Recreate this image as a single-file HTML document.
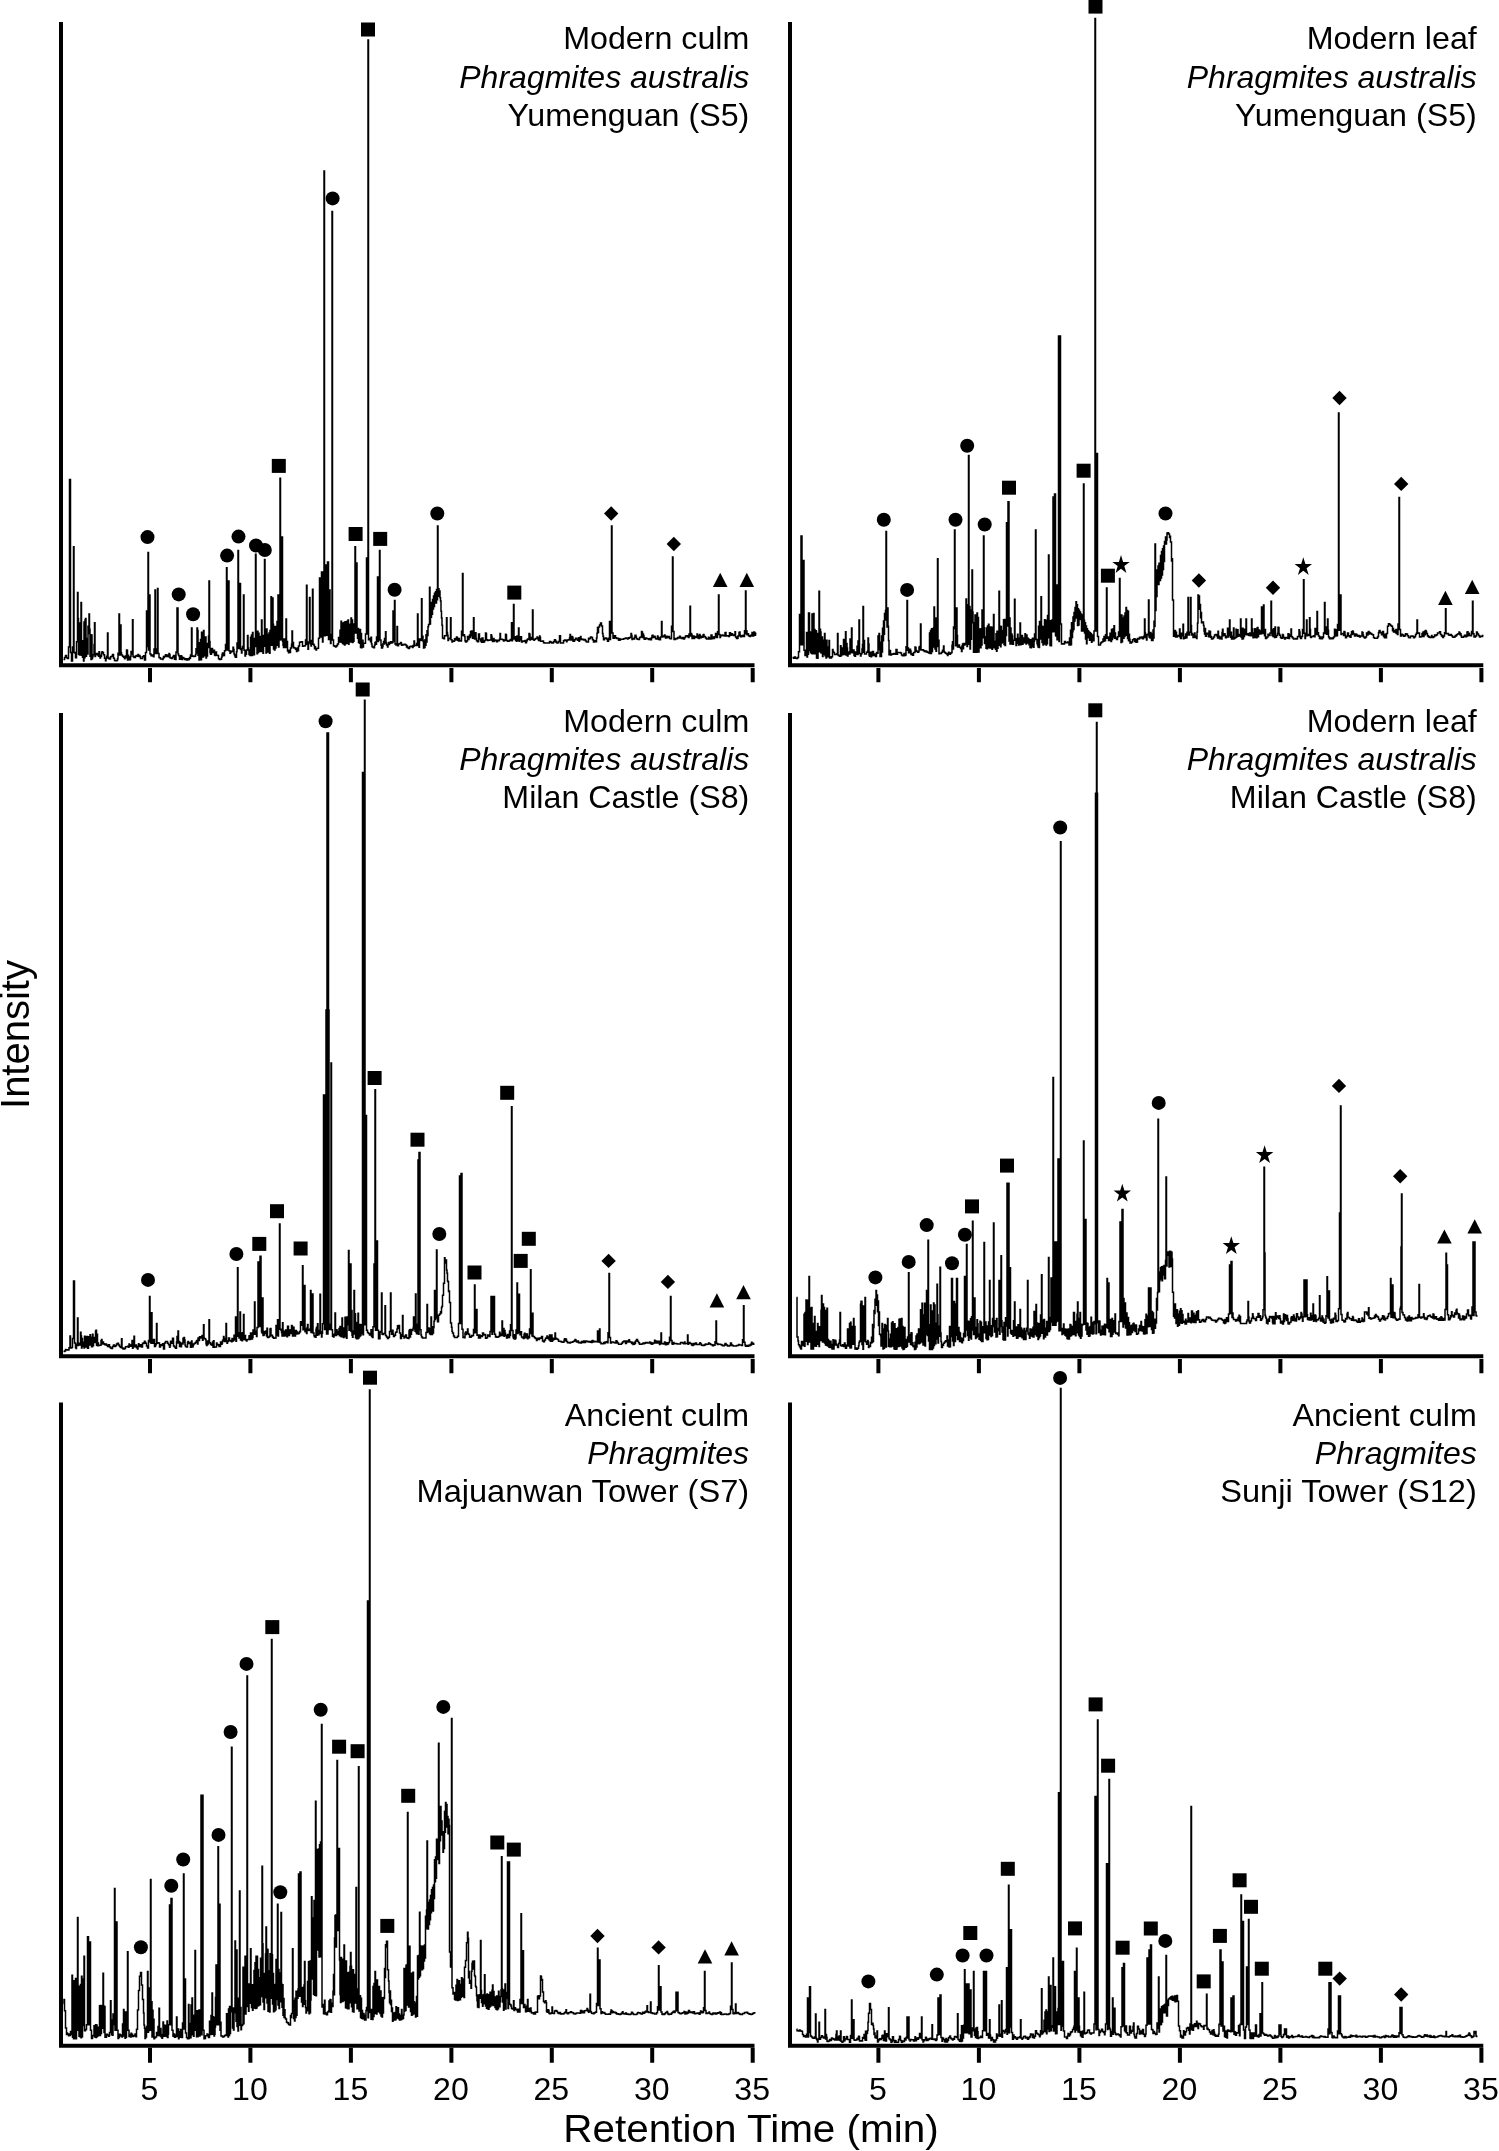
<!DOCTYPE html>
<html lang="en"><head><meta charset="utf-8"><title>Pyrolysis GC chromatograms of Phragmites</title>
<style>html,body{margin:0;padding:0;background:#fff}svg{display:block;will-change:transform}text{font-family:"Liberation Sans", Arial, Helvetica, sans-serif;fill:#000}.l{font-size:30.5px;text-anchor:end}.i{font-style:italic}.k{font-size:30.5px;text-anchor:middle}.a{font-size:38px;text-anchor:middle}.ax{stroke:#000;stroke-width:4;fill:none;stroke-linecap:butt}.tr{stroke:#000;stroke-width:1.5;fill:none;stroke-linejoin:miter}</style></head><body>
<svg width="1499" height="2151" viewBox="0 0 1499 2151">
<rect width="1499" height="2151" fill="#fff"/>
<path class="ax" d="M61 22V665.3H754.5"/>
<path class="ax" d="M150 667.9v14.4M250.4 667.9v14.4M350.9 667.9v14.4M451.4 667.9v14.4M551.8 667.9v14.4M652.2 667.9v14.4M752.7 667.9v14.4"/>
<path class="ax" d="M61 713V1356.3H754.5"/>
<path class="ax" d="M150 1358.9v14.4M250.4 1358.9v14.4M350.9 1358.9v14.4M451.4 1358.9v14.4M551.8 1358.9v14.4M652.2 1358.9v14.4M752.7 1358.9v14.4"/>
<path class="ax" d="M61 1402.4V2045.8H754.5"/>
<path class="ax" d="M150 2047.8v15M250.4 2047.8v15M350.9 2047.8v15M451.4 2047.8v15M551.8 2047.8v15M652.2 2047.8v15M752.7 2047.8v15"/>
<path class="ax" d="M790 22V665.3H1483.3"/>
<path class="ax" d="M878.4 667.9v14.4M978.9 667.9v14.4M1079.4 667.9v14.4M1179.9 667.9v14.4M1280.4 667.9v14.4M1380.9 667.9v14.4M1481.4 667.9v14.4"/>
<path class="ax" d="M790 713V1356.3H1483.3"/>
<path class="ax" d="M878.4 1358.9v14.4M978.9 1358.9v14.4M1079.4 1358.9v14.4M1179.9 1358.9v14.4M1280.4 1358.9v14.4M1380.9 1358.9v14.4M1481.4 1358.9v14.4"/>
<path class="ax" d="M790 1402.4V2045.8H1483.3"/>
<path class="ax" d="M878.4 2047.8v15M978.9 2047.8v15M1079.4 2047.8v15M1179.9 2047.8v15M1280.4 2047.8v15M1380.9 2047.8v15M1481.4 2047.8v15"/>
<path class="tr" d="M63.5 659.4H64.5V657.6H65.5V655.5H66.5V657.8H67.5V658.4H68.5V647H69.5V479.6H70.5V652.6H71.5V660.9H72.5V646.9H73.5V546.7H74V652.5H75V653.1H75.5V657.8H76.5V641.8H77.5V592.4H78V618.5H78.5V654.3H79V623.1H79.5V654.9H80V634.2H80.5V651.5H81V602.5H81.5V655.3H82V642.5H82.5V657.3H83V640.8H83.5V660.9H84V622.1H84.5V657.8H85V619.9H85.5V618.4H86V656.3H86.5V638.5H87V640.8H87.5V653.9H88V626.2H88.5V633.5H89V614H89.5V629.2H90V656.3H90.5V634.7H91V659.4H91.5V635.1H92V658.8H92.5V656.7H93V654.8H93.5V654.7H94V644.5H94.5V622.8H95V656.5H95.5V654.6H96.5V653.5H97.5V654.9H98.5V656.2H99V651.8H99.5V655.3H100V658H100.5V656.5H101.5V653.1H102V651.7H102.5V652.6H103.5V654.7H104.5V658.3H105.5V660.7H106V658.4H106.5V656.3H107.5V633H108V658H109V658.8H109.5V659.1H110.5V656.8H111.5V656.3H112.5V654.5H113V654.6H113.5V658.3H114.5V660.5H115.5V660.7H116.5V660.6H117V660.5H117.5V658.8H118V653.2H119V614H119.5V654.9H120.5V625H121V652.7H121.5V655.1H122.5V656.3H123.5V657.2H124.5V658.8H125V656.4H125.5V656.1H126V657.8H126.5V650.1H127V650.3H127.5V659.9H128V655.2H128.5V657.1H129.5V659.8H130.5V656.6H131V651.4H131.5V653H132V654H132.5V619.7H133V656.6H134V657.5H135.5V656H136.5V655.6H137.5V656.2H138V654.4H138.5V655.5H139V656.5H139.5V655.5H140V656.8H140.5V658.4H141.5V658.6H142.5V656.8H143.5V655.8H144V656.1H144.5V660.1H145.5V652.5H146.5V611H147V646.4H148V552.6H148.5V650H149.5V595H150V654.1H151V655.7H151.5V655H152.5V656H153.5V656.8H154V649.1H155V590H155.5V653.6H156.5V648.9H157.5V588.6H158V653.5H159V657.5H159.5V657.8H160.5V658.9H161.5V659.1H162.5V659.4H163V658.2H163.5V656.6H164V657.5H164.5V656.3H165.5V654.8H166V656.3H166.5V656.4H167.5V654.9H168.5V656.7H169V653.6H169.5V654.7H170V657.7H170.5V657.9H171.5V658.5H172.5V656.9H173.5V655.5H174.5V659.3H175.5V659.5H176V651.9H177V608H178V653.7H178.5V655.2H179V655.9H179.5V659.3H180.5V659.1H181V655.8H181.5V656.6H182V659.4H182.5V657.6H183.5V658.3H184.5V659.5H185.5V658.8H186.5V660H187.5V658.8H188.5V659.8H189V659H189.5V657.4H190V658.2H190.5V655H191.5V627.9H192V656.3H192.5V655.9H193.5V656.5H194.5V656.3H195.5V654.4H196V648.8H196.5V652.9H197V627.9H197.5V630.5H198V655.2H198.5V642.7H199V660.1H199.5V649.2H200V658.8H200.5V639.4H201V659.8H201.5V632.3H202V655.4H202.5V632.4H203V656.9H203.5V630.4H204V655.1H204.5V641.8H205V655.8H205.5V637H206V657.9H206.5V645.4H207V655.9H207.5V643.5H208V647.4H208.5V636.1H209V581H209.5V641.5H210V652.5H210.5V654.3H211.5V648.4H212.5V652.5H213.5V651.1H214V650.3H214.5V655H215V655.5H215.5V651.9H216.5V655.3H217.5V655.6H218.5V658.7H219.5V659.4H220.5V659.3H221.5V657.2H222V654.5H222.5V653H223V655.8H223.5V655.4H224.5V650.7H225.5V644.5H226.5V567.8H227V650.1H227.5V645.8H228.5V581H229V650.7H229.5V650.8H230V653.2H230.5V651.9H231.5V651.2H232.5V651.5H233V647.2H233.5V649.4H234V653.7H234.5V654.9H235V656.5H235.5V657.3H236.5V651.8H237V642.9H238V550.5H238.5V648.5H239V645H240V583.5H240.5V649.6H241.5V653H242V648.6H242.5V646.4H243.5V595H244V650.3H245V656.1H245.5V654.2H246.5V650H247.5V635.5H248V648.1H248.5V650.3H249V654.6H249.5V650H250V655.6H250.5V637.2H251V655.4H251.5V635H252V655.4H252.5V632.6H253V654.6H253.5V644.9H254V654.7H254.5V638.6H255V641H255.5V554.3H256V646.6H256.5V632.9H257V653.8H257.5V631.2H258V652.4H258.5V633.3H259V651.4H259.5V636.4H260V651.6H260.5V638H261V649.2H261.5V620H262V651.4H262.5V639.7H263V653.3H263.5V635.4H264V640.6H264.5V559.4H265V646.2H265.5V636.6H266V653.1H266.5V629H267V634.5H267.5V652.1H268V639.4H268.5V652H269V633.1H269.5V653.3H270V630.4H270.5V645.1H271V596.7H271.5V645.3H272V630.3H272.5V598H273V624.2H273.5V648.9H274V633.6H274.5V650.1H275V626.4H275.5V647.9H276V626.5H276.5V645.2H277V621.4H277.5V644.6H278V595H278.5V646.9H279V626.7H279.5V640H280V478.3H280.5V639.7H281.5V537H282.5V641.2H283V645.3H283.5V647.4H284V638.9H284.5V647.6H285V647.3H285.5V645.5H286V619H286.5V647.5H287V641.6H287.5V651.1H288.5V652.7H289V650.3H289.5V650.8H290V652.6H290.5V648.1H291.5V644.3H292V631H292.5V646.5H293V642.6H293.5V647.7H294V647.5H294.5V648.1H295.5V649.3H296.5V651.5H297V648.6H297.5V648.1H298V650.8H298.5V646.1H299.5V642.3H300.5V641.9H301.5V641.7H302.5V646.3H303.5V646.1H304.5V645.7H305.5V640.1H306.5V585.3H307V644.3H308V649.2H308.5V641.9H309.5V597.4H310V642.9H310.5V644.1H311V646H311.5V640.4H312.5V589.3H313V644.3H314V645.4H314.5V648.7H315V646.7H315.5V648.8H316V650H316.5V648.6H317.5V648.3H318.5V638.2H319.5V578H320.5V637.1H321.5V572H322.5V642.1H323V635.4H324V171H324.5V635.8H325.5V565H326.5V635.2H327.5V562H328.5V639.6H329.5V590H330V639.2H330.5V643.4H331V634.4H332V211.5H332.5V640H333.5V645.7H334.5V646.3H335.5V646.9H336V646.6H336.5V645.4H337V645.7H337.5V643.9H338.5V637.5H339V639.7H339.5V642.1H340V630.3H340.5V642.1H341V621.2H341.5V642.2H342V631.9H342.5V643.4H343V622.9H343.5V644.1H344V622.6H344.5V645.1H345V621.8H345.5V643.8H346V623.6H346.5V643.2H347V621.3H347.5V640.4H348V620.1H348.5V644.2H349V624.3H349.5V641.9H350V626.1H350.5V642H351V618H351.5V640.4H352V619.9H352.5V642.4H353V624.1H353.5V641.2H354V626.2H354.5V631.9H355V546.7H355.5V633H356V632.8H356.5V563H357V631.7H357.5V638.3H358V628.4H358.5V642.4H359V633.6H359.5V643.2H360V629.5H360.5V647.4H361V633.5H361.5V647.8H362V641.3H362.5V640.3H363V646.9H363.5V643.3H364.5V643.2H365.5V634.1H366.5V558H367.5V634.1H368V40H368.5V639.7H369.5V638.6H370V639.8H370.5V641.7H371V637.3H371.5V643.9H372V646.5H372.5V647H373.5V647.7H374.5V645.2H375V642.7H375.5V641.9H376V644.3H376.5V636.9H377.5V577H378V641.4H378.5V634.3H379.5V550.5H380V639.9H381V645.1H381.5V647.9H382.5V646.4H383V643.7H383.5V641.4H384V644.1H384.5V638.6H385V641.7H385.5V631.7H386V643H386.5V644.9H387V645H387.5V646.9H388V644.4H388.5V642.6H389V644.5H389.5V643.2H390.5V641.8H391.5V643.1H392V642.5H393V611H393.5V640.9H394.5V600.5H395V643.9H396V645.1H397V626.6H397.5V645.8H398.5V644H399.5V643.8H400.5V642.4H401V642.9H401.5V645.3H402V644.6H402.5V644.9H403.5V644.4H404.5V644.3H405.5V644.9H406.5V647H407V646H407.5V647.8H408.5V648.6H409.5V646.8H410.5V646.3H411.5V646.5H412.5V647.5H413V645.5H413.5V646.2H414V641H414.5V645.5H415.5V645.6H416.5V643.4H417.5V614H418V645.6H419V647.2H419.5V638.9H420.5V640.6H421.5V598.7H422V636.3H422.5V636.2H423V640.9H423.5V647.9H424V643.9H424.5V647.6H425V639.7H425.5V645.2H426V634.7H426.5V641.9H427V630.8H427.5V635.4H428V626.7H428.5V624.4H429.5V587.3H430V623.9H430.5V607.1H431V617.2H431.5V602.5H432V614.2H432.5V599.4H433V609.1H433.5V595.9H434V606.6H434.5V593.2H435V603H435.5V591.8H436V603H436.5V589.6H437V599.7H437.5V526H438V593.8H438.5V588.8H439V596.2H439.5V591.1H440V597.8H440.5V601H441V611.2H441.5V617.9H442V625.2H442.5V638H443V637.9H443.5V638.6H444V638.7H444.5V635.8H445.5V635.7H446.5V617.7H447V632.5H447.5V635.2H448V640.4H448.5V638.7H449.5V638.2H450.5V617.7H451V639.7H452V642.1H452.5V641.1H453.5V641.3H454.5V638.8H455V639.9H455.5V638.6H456V639.8H456.5V637H457V637.4H457.5V640.3H458.5V640.9H459V638.4H459.5V640.8H460.5V641.1H461.5V631.2H462.5V573.4H463V635.6H464V634.8H464.5V636.6H465V640.7H465.5V641.8H466V641.9H466.5V641.1H467.5V636.4H468V637.1H468.5V639.4H469V636.9H469.5V635.1H470V637.6H470.5V631.4H471V635.8H471.5V630.9H472V631.1H472.5V638.3H473.5V617.7H474V636.8H474.5V638.9H475V633.1H475.5V632.8H476V638.6H476.5V640.8H477.5V641.7H478.5V634H479.5V639.1H480.5V640.9H481.5V642.3H482V637.9H483V642.3H483.5V641.2H484V642H484.5V640.4H485V640.6H485.5V633.1H486V633.6H486.5V639.7H487.5V640.4H488.5V640.2H489.5V640H490.5V640.1H491V634.7H491.5V636.3H492V640.3H492.5V641.4H493.5V638.6H494V641.2H494.5V640H495.5V640.3H496.5V641.7H497.5V640.2H498V640.3H498.5V640.8H499.5V639.3H500V633.4H500.5V639.2H502.5V639.8H503.5V640.9H504V640.4H504.5V640.1H505V640.6H505.5V634.3H506V635.1H506.5V640.6H507.5V641.2H508.5V641.3H509V641H509.5V640.3H510V640.6H510.5V639.4H511.5V622.8H512V640.7H512.5V636.5H513.5V604.5H514V638.9H515V636.7H515.5V640.4H516V640.1H516.5V641.3H517V636.1H517.5V636.2H518V640.3H518.5V627.9H519V641.2H519.5V639.9H520.5V636.7H521.5V642H522.5V641H523.5V641.3H524.5V641.1H525V640.6H525.5V642.7H526.5V640.9H527V640H527.5V639.1H528.5V639.2H529V633.5H529.5V634.2H530V639.9H530.5V639.2H531.5V637.5H532.5V610H533V639.6H534V640.3H534.5V639.2H535.5V638.6H537V637.1H537.5V637.8H538V639.1H538.5V640.6H539.5V635.9H540V637.6H540.5V641.3H541.5V641.2H542.5V641H543.5V642.8H544.5V642.9H549.5V641.6H550.5V642.2H551V641.9H551.5V642.7H552V642.9H553.5V641.5H554.5V639.8H555.5V642.1H556V641.3H556.5V642.5H557V643H557.5V642.7H558.5V641.4H559.5V635.8H560.5V643H562.5V642.9H563.5V640.7H564.5V639.9H565.5V640.3H566.5V641.7H567V640.3H567.5V640H568.5V639.7H569.5V638.1H570V634.6H570.5V639.9H571.5V640.1H572V636.5H572.5V637.6H573V641.2H573.5V641.3H574.5V639.8H575.5V638.3H576.5V638.9H577.5V640.3H578.5V637.7H579V641.2H579.5V639.7H580.5V636.6H581V638.7H581.5V639.4H582.5V639.2H583.5V640.1H584.5V639.5H585.5V641.1H586.5V641.9H587.5V642.1H588.5V638.2H589V639.1H589.5V638.5H590.5V637.1H591.5V637.6H592.5V639.7H593.5V641.9H594.5V641.8H595V640.7H595.5V641.8H596.5V638.1H597V633.3H597.5V627.6H598V632.5H598.5V626.9H599.5V625.1H600.5V622.9H601.5V626.1H602.5V633.4H603V636.2H603.5V639.8H604.5V638.3H605.5V637.9H606.5V639H607.5V641.3H608.5V638.2H609.5V621.5H610V639.4H610.5V627.3H611.5V526H612V632.9H613V638H613.5V638.2H614.5V635.8H615.5V637.7H616.5V638.4H617.5V638.5H618V638.3H618.5V640H619V640.2H619.5V638.7H620V640.1H620.5V639.3H623.5V638.7H624.5V638.5H625.5V637.9H626.5V638.2H627.5V639H628V638.4H628.5V637.7H629V638.3H629.5V637.5H630.5V637.3H631V633.4H631.5V635.6H632V639.6H632.5V638.4H633.5V638.8H634V639H634.5V637.2H635V635.3H635.5V635.2H636V637.1H636.5V638.7H637.5V639.2H638.5V639.6H639.5V637.6H640.5V636.9H641.5V631.6H642V632.2H642.5V637.4H643V634H643.5V635.7H644V638.7H644.5V639.2H645.5V638H646.5V638.4H647.5V638.8H648.5V639.5H649.5V638.8H650V638.5H650.5V639.7H651.5V637.8H652V635.6H652.5V635.2H653V637.4H653.5V636.7H654.5V636.3H655V637.3H655.5V638.7H656.5V639H657.5V635.9H658V637.4H658.5V639.5H659V638H659.5V638.3H660V639.8H660.5V636.9H661.5V621.5H662V636.9H662.5V636H663.5V636.7H664.5V635.1H665V636.2H665.5V638H666V636.5H666.5V636.3H667V637.7H667.5V637.2H668.5V636.6H669.5V638.4H670.5V638.7H671.5V626.3H672.5V556.9H673V631.6H674V639.4H675.5V638.5H676.5V638.7H677.5V637.6H678.5V638.1H679V637.8H679.5V636.2H680V636.4H680.5V638.1H681.5V638.4H682.5V637.6H683V638.3H683.5V638.9H684.5V637.5H685.5V635.9H686.5V635.7H687.5V636.7H688.5V637.4H689V634H690V606.3H690.5V636.1H691V633.6H691.5V634.4H692V638.5H692.5V638.2H693.5V636H694V638.6H694.5V636.4H695V636.7H695.5V637.6H696.5V637.1H697V633.9H697.5V635.5H698V637.9H698.5V638.1H699V638.4H699.5V634.4H700V635.7H700.5V637.7H701.5V636.5H702.5V637.3H703V635.1H703.5V634.6H704V636.7H704.5V636.6H705.5V638H706.5V638.9H708.5V637.2H709V637.7H709.5V638.9H711V635.1H712V638.8H712.5V637.1H713V637.3H713.5V638.6H714.5V636.7H715.5V633.4H716V637.1H716.5V637.4H717.5V631.7H718.5V594.9H719V634.5H720V637.4H720.5V635.8H721.5V635.2H722.5V635.1H723V635.4H723.5V635.8H724.5V636H725V632.7H725.5V632.6H726V635.9H726.5V635.7H728.5V636.4H729.5V632.7H730.5V635.2H731.5V633.8H732.5V635H733.5V635.4H734.5V634.8H735V631.8H735.5V637H736.5V638.4H737.5V638.3H738V636H738.5V635.7H739V632.5H739.5V632H740V635.2H740.5V636.7H741.5V635.8H742.5V636.5H743V635.3H743.5V635.7H744V636.5H744.5V630.7H745.5V591.1H746V633.7H746.5V631H747V634.8H747.5V633.8H748.5V635.7H749.5V636.5H750.5V635.2H751.5V635.8H752V632.5H752.5V636H753.5V635.6H754V631.9H754.5V632.8H755V635.3H755.5V633.5H756.5"/>
<path class="tr" d="M792.5 657.6H793.5V658.3H794.5V656.9H795V657H795.5V658.3H796.5V658.5H797.5V657.4H798.5V651.7H799.5V614.5H800V644.7H801V535.9H802V644.7H803V560.5H804V650.3H805V655.6H805.5V653.3H806V655.1H806.5V632.4H807V656.9H807.5V647.9H808V654.3H808.5V613H809.5V650.6H810V632.1H810.5V652.4H811V635.3H811.5V653.5H812V614.1H812.5V653.7H813.5V613.6H814V651.4H814.5V629.6H815V653.8H815.5V630.8H816V631H816.5V658H817V635H817.5V658.3H818V633.4H818.5V647.5H819V591.2H819.5V651.8H820V629.2H820.5V632.1H821V653H821.5V637H822.5V656.5H823V640.2H823.5V641.2H824V654.2H824.5V633.5H825V655.7H826V658.1H826.5V640.3H827V647.1H827.5V656.7H828.5V656.2H829V640.6H829.5V658H830V657H830.5V657.1H831V657.9H831.5V656.7H832.5V649.6H833V651.4H833.5V652.4H834.5V654.5H835.5V654.6H836.5V653.9H837V653.7H837.5V633.5H838V655.1H838.5V655.4H839.5V656.2H840.5V645.8H841V655.8H841.5V648.1H842V654.8H842.5V653.2H843.5V639.5H844V654.5H844.5V640.1H845V653.4H845.5V631.7H846V655H846.5V643.6H847V648.1H847.5V656H848V654.1H848.5V652.1H849.5V654.1H850V639H850.5V652.6H851.5V627.9H852V652.8H852.5V650.3H853V652.8H853.5V650.1H854V655.5H854.5V653.4H855V656.2H855.5V651.9H856V654.1H856.5V654.3H857V646.2H857.5V654.4H858V640.9H858.5V646H859V620H859.5V653.6H860.5V656.1H861V654.1H861.5V653.4H862V648.9H862.5V644.6H863V606.4H863.5V652.2H864V640.5H864.5V654.1H866.5V652.3H867.5V651.3H868V638H868.5V644.1H869V655H869.5V656.2H870.5V652.3H871V656.8H871.5V655.7H872.5V651.6H873.5V655.6H874V654.1H874.5V654H875V655.1H875.5V656.4H876.5V652.6H877V652.8H877.5V653.2H878V636H878.5V649.5H879V633.6H879.5V648.6H880V656.6H880.5V642.3H881V656.5H881.5V636.1H882V651.9H882.5V628.2H883V640.7H883.5V620.9H884V634.2H884.5V613.6H885V620H885.5V610.4H886V531.6H886.5V608.8H887V627.1H887.5V607.9H888V626.2H888.5V640.6H889V654.7H889.5V650.6H890.5V655.1H891.5V653.9H892.5V654.3H893.5V653.6H894.5V654.1H895.5V654.3H896V649.4H896.5V649.6H897V654.3H897.5V652.4H900.5V653H901.5V655.1H902.5V655.8H904V653.5H904.5V655.4H905.5V655H906V646.7H907V600.5H907.5V650.3H908V648H908.5V652.7H909.5V652.6H910V649.3H910.5V651H911V654.4H911.5V653.8H912.5V655.2H913.5V652.6H915V647.1H915.5V647.4H916V650.6H916.5V651.2H917.5V652.2H918.5V651.7H919V647.3H919.5V646.4H920V649.7H920.5V624.1H921V650.1H921.5V649.9H922.5V649.7H923.5V650.7H924.5V651.6H925.5V651.8H926V651H926.5V651.6H927V652.1H927.5V652.3H928.5V653H929.5V633H930V653.4H930.5V630.5H931V653.6H931.5V628.7H932V651.4H932.5V643H933V646.9H933.5V627.7H934V606.9H934.5V627.3H935V648.9H935.5V618H936V651.2H936.5V627.5H937V641H937.5V558.7H938V646.6H938.5V640.3H939V653.8H939.5V653.3H940.5V653.4H941.5V652.2H942.5V650.3H943V651.1H943.5V646.1H944V651.5H944.5V652.5H945.5V653.2H946.5V653.9H947.5V655.5H948V653.7H948.5V652.2H949V654H949.5V653.9H950V654.2H950.5V653H951.5V652.5H952V645.3H952.5V641.8H953V648.9H953.5V626.9H954.5V530H955V628.4H955.5V645.7H956V631.4H956.5V608H957V635.4H957.5V646.9H958.5V645.5H959V644.9H959.5V647.2H960.5V648.5H961.5V651.6H962V645.9H962.5V644H963V648.8H963.5V643.5H964.5V645H965V644.1H965.5V643.9H966V599H966.5V621.5H967V646.5H967.5V604.8H968V638.6H968.5V455.5H969V644.2H969.5V606.5H970V649.1H970.5V622.4H971V639.2H971.5V609.9H972V570H972.5V612.1H973V622.7H973.5V652.3H974V631.4H974.5V652.3H975V615.1H975.5V652.2H976V616.3H976.5V652.2H977V613H977.5V651.7H978V617.4H978.5V652.1H979V634.5H979.5V647.7H980V628.9H980.5V647.8H981V628.7H981.5V645.1H982V610H982.5V637.8H983V627.3H983.5V535.9H984V627.7H984.5V643.4H985V636.8H985.5V640.7H986V648.2H986.5V628H987V648.8H987.5V626H988V647.7H988.5V624.3H989V646H989.5V631.7H990V648H990.5V626.9H991V647.5H991.5V630H992V649.3H992.5V627.2H993V645.4H993.5V614.5H994V647.8H994.5V641.2H995.5V649.3H996V633.8H996.5V651.2H997V631.2H997.5V648.3H998V632.8H998.5V641.5H999V591.2H999.5V645.3H1000V626.2H1000.5V646.7H1001V626.6H1001.5V642.9H1002V631.2H1002.5V630.7H1003V642.4H1003.5V619.8H1004V644.5H1004.5V619.6H1005V645.4H1005.5V619.9H1006V635.6H1006.5V522.7H1007.5V625.9H1008V501.7H1009V640.9H1009.5V617.9H1010V644H1010.5V627.9H1011V644.1H1011.5V634H1012V635.9H1012.5V644.3H1013.5V640.3H1014.5V599.3H1015V638.6H1015.5V638.8H1016V645.5H1016.5V643.3H1017.5V634.3H1018V638.3H1018.5V645H1019V642.3H1019.5V643.2H1020V623H1020.5V644.7H1021V635.4H1021.5V644.3H1022V635.5H1022.5V644.2H1023V637.9H1023.5V642.4H1024V638.1H1024.5V642.8H1025V633.7H1025.5V635.7H1026V643.9H1026.5V635H1027V642.5H1027.5V638.1H1028V643.1H1028.5V639H1029V644.8H1029.5V641.3H1030V647.6H1030.5V639.7H1031V647.7H1031.5V639.6H1032V646.5H1032.5V638.3H1033V639.4H1033.5V647.3H1034V641.2H1034.5V633.9H1035.5V530H1036V639.5H1037V643.5H1037.5V644.9H1038V647H1038.5V626.2H1039V647.5H1039.5V621.6H1040V639.1H1040.5V636.9H1041V596.7H1041.5V626.2H1042V642.4H1042.5V626.5H1043V644.9H1043.5V628.6H1044V643.2H1044.5V619.8H1045V644.1H1045.5V626.7H1046V645H1046.5V620.2H1047V643.7H1047.5V615.5H1048V632.2H1048.5V555H1049V637.8H1049.5V628.4H1050V645.6H1050.5V620.7H1051V645.8H1051.5V620.3H1052V631.8H1052.5V619.7H1053V497H1054V631.7H1054.5V494H1055.5V635.4H1056V635.9H1056.5V585H1057V639.8H1057.5V631.4H1058.5V336H1059V641.4H1059.5V336H1060.5V623.9H1061.5V644H1062.5V643.7H1063.5V644H1064.5V641.4H1065.5V642.8H1066.5V642.7H1067.5V641.9H1068.5V642.8H1069V645H1069.5V637.9H1070V645H1070.5V630.3H1071V644.8H1071.5V622.8H1072V637.4H1072.5V631.7H1073V617.1H1073.5V629.4H1074V612.4H1074.5V621.1H1075V607.5H1075.5V613.6H1076V601.7H1076.5V618.1H1077V604.7H1077.5V625.6H1078V608.7H1078.5V625H1079V610.3H1079.5V617.9H1080V612.1H1080.5V619.6H1081V614H1081.5V630.9H1082V615.1H1082.5V631H1083V617.9H1083.5V484H1084V620.3H1084.5V632.9H1085V622.7H1085.5V639.1H1086V626.1H1086.5V643.8H1087V628.8H1087.5V637.7H1088V630.8H1088.5V635.9H1089V631.9H1089.5V640.2H1090V632.7H1090.5V636.5H1091V633.7H1091.5V642.2H1092V634.9H1092.5V637.3H1093.5V640.8H1094V631H1095V18.6H1095.5V631H1096.5V453.5H1097.5V636.6H1098.5V645H1100.5V643.1H1101.5V642.1H1102.5V641.8H1103V638.9H1103.5V641.2H1104V636.5H1104.5V640.8H1105.5V634.8H1106.5V587.9H1107V638.3H1107.5V637.1H1108.5V640.4H1109.5V638.4H1110V633.3H1110.5V637.1H1111V641.5H1111.5V629.4H1112V639.5H1112.5V629.1H1113V633.2H1113.5V637.1H1114V625.8H1114.5V638.2H1115V633H1115.5V638H1116.5V639.4H1117.5V636.8H1118.5V632.1H1119.5V578.5H1120V636.2H1120.5V615.6H1121V642.4H1121.5V615H1122V641.7H1122.5V618H1123V626.4H1123.5V638.2H1124V616H1124.5V636.6H1125V612.9H1125.5V633.5H1126V607.5H1126.5V635.2H1127V610.4H1127.5V638.6H1128V611.3H1128.5V640.7H1129V634.2H1129.5V639.2H1130V643H1130.5V642.9H1131.5V642.1H1132.5V639.8H1133.5V639.5H1134V638.7H1134.5V641.4H1135V638.9H1135.5V639.8H1136V642.3H1136.5V642.1H1137.5V638.5H1138V638.8H1138.5V638.9H1139.5V637.2H1140.5V638.1H1141.5V636.9H1142.5V638.8H1143.5V637.5H1144V636.1H1144.5V619H1145V632.9H1145.5V637.5H1146.5V639.9H1147V634.8H1147.5V634.3H1148.5V600H1149V636.9H1150V638.1H1150.5V632.6H1151V637.4H1151.5V640.6H1152V634H1152.5V640.6H1153V630H1153.5V637.9H1154V621.3H1154.5V626.4H1155V544H1155.5V610.4H1156V586.6H1156.5V596.6H1157V570.1H1157.5V582.9H1158V566.1H1158.5V584.6H1159V563.2H1159.5V580.6H1160.5V555.4H1161V578H1161.5V551.6H1162V574.9H1162.5V548.8H1163V569.4H1163.5V546H1164V561.4H1164.5V541.6H1165.5V537H1166V544H1166.5V540.1H1167V533.1H1167.5V533.6H1168V532.8H1168.5V533.9H1169.5V537.4H1170V536.3H1170.5V542.1H1171.5V560.9H1172V558.8H1172.5V600.1H1173.5V636.2H1174.5V635.4H1175V630.6H1175.5V637H1176V632.3H1176.5V637H1177.5V636H1178V635.6H1178.5V635.9H1179V636.1H1179.5V629H1180V637.1H1180.5V638.5H1181.5V633.3H1182.5V635.7H1183V624.3H1183.5V638.8H1184V637.4H1184.5V636.9H1185V638.3H1185.5V633.9H1186.5V637.7H1187V632.3H1188V597.4H1188.5V635H1189.5V632.3H1190.5V597.4H1191V625.5H1191.5V635H1192V633.4H1192.5V634.4H1193V637.5H1194.5V632.9H1195V637.2H1195.5V636.2H1196V636.5H1196.5V638.5H1197V632H1197.5V622.9H1198V595H1198.5V605.7H1199V596.1H1199.5V609.3H1200V604.6H1200.5V617.8H1201V612.6H1201.5V622.8H1202.5V622.1H1203.5V625.4H1204V630.9H1204.5V634H1205V628.5H1205.5V636.2H1206.5V633.2H1207.5V634.1H1208.5V636.8H1209V631H1209.5V636H1210V631.4H1210.5V637.3H1211V636.5H1211.5V638.9H1212.5V638.5H1213.5V637H1214V636.9H1214.5V634.9H1215V635H1215.5V634.4H1216.5V635.7H1217.5V638H1218V631.3H1218.5V636.2H1219.5V638.8H1220V637.1H1220.5V638.2H1221.5V639H1222V632.5H1222.5V629.3H1223V635.8H1223.5V635.5H1224.5V633.8H1225V635.5H1225.5V637.7H1226.5V636.5H1227.5V628.3H1228V637H1228.5V635.3H1229.5V620H1230V635.4H1230.5V637.2H1231V632.3H1231.5V639H1232V636.2H1232.5V636.3H1233V639H1233.5V628.1H1234V638.7H1234.5V637.7H1235V637.9H1235.5V637.5H1236V629.2H1236.5V637H1237V630.5H1237.5V629.7H1238V636.3H1238.5V634.6H1239V636H1239.5V634.4H1240V635.8H1240.5V619H1241V637.1H1242V638.9H1242.5V628.3H1243V638.8H1243.5V636.4H1244.5V629.2H1245V630.8H1245.5V634.5H1246V619H1246.5V634.7H1247.5V634H1248V633.8H1248.5V635.3H1249V635.6H1249.5V633.1H1250V633.2H1250.5V635.8H1251.5V619H1252V629H1252.5V633.1H1253V637.8H1253.5V637.4H1254.5V628.7H1255V630.4H1255.5V637.4H1256V629.3H1256.5V637.8H1257V628.1H1257.5V627.6H1258V636.7H1258.5V630H1259.5V634.1H1260.5V633.9H1261V631H1261.5V607H1262V630H1262.5V633.6H1263.5V605H1264V632.7H1264.5V635.7H1265V629.6H1265.5V638.4H1266.5V637.8H1267V636.9H1268V634.3H1268.5V635.3H1269.5V635.6H1270V633H1271V601.2H1271.5V630.2H1272V635.4H1272.5V630.1H1273V636.6H1273.5V628.8H1274.5V637.4H1275V627H1275.5V637.2H1276.5V635.4H1277.5V633.6H1278V627.3H1278.5V627.4H1279V633.7H1279.5V635.3H1280.5V637.4H1281V637.8H1281.5V638.2H1282.5V634.4H1283V635.3H1283.5V637.6H1284.5V639H1285.5V637.4H1286.5V637.8H1287.5V638.2H1288V633.7H1288.5V633.9H1289V638.4H1289.5V635H1290V635.5H1290.5V636.2H1291V629.1H1291.5V636.8H1292.5V638H1293.5V639H1295.5V638.6H1296.5V638.9H1297V638.8H1297.5V636.4H1298.5V636.5H1299V629.8H1299.5V632H1300V637.1H1300.5V638.5H1301.5V636.5H1302.5V629.5H1303.5V579.7H1304V633.3H1305V638.6H1305.5V635H1306V635.6H1306.5V620H1307V635.7H1307.5V634.4H1308.5V635.5H1309.5V617.7H1310V629.6H1310.5V636.9H1311V637.4H1311.5V636.4H1312.5V636.6H1313.5V635.8H1314.5V636.7H1315V628.4H1315.5V629.9H1316V634.4H1317V611.4H1317.5V632.8H1318.5V635.9H1319.5V638.4H1320.5V638.8H1321V637.1H1322V638.8H1322.5V637.5H1323.5V632.9H1324.5V602.5H1325V633.5H1325.5V626.9H1326V627.6H1326.5V634.3H1327V633.9H1327.5V619H1328V630.3H1328.5V636.8H1329V637.6H1329.5V638.7H1331V637.9H1332V638.7H1332.5V638.4H1333.5V637H1334.5V629.2H1335V631.8H1335.5V636.1H1336V629.8H1336.5V635.8H1337.5V624.6H1338.5V412.9H1339V630.2H1340V595H1341V634.4H1341.5V633.6H1342V633.8H1342.5V633.4H1343.5V635.4H1344V631.4H1344.5V631.9H1345V635.5H1345.5V637.7H1346.5V636.3H1347.5V633H1348.5V635.8H1349.5V636.8H1350.5V637.3H1351V634.6H1351.5V631.7H1352V634.5H1352.5V630.9H1353V632H1353.5V634H1354.5V636H1355.5V635.6H1356V634H1356.5V635.1H1357.5V636.2H1358.5V635.5H1359.5V637.1H1360.5V636.1H1361.5V635.9H1362V632H1362.5V632.7H1363V635.2H1363.5V637H1364.5V638H1365.5V637H1366.5V632.9H1367V633.3H1367.5V634.9H1368V632.3H1368.5V631.4H1369V634H1369.5V632.4H1370V633H1370.5V633.4H1371.5V634.3H1372.5V634.7H1373.5V637.4H1374.5V638.2H1377.5V637H1378V636.5H1378.5V632.8H1379V630.9H1379.5V630.4H1380V632H1380.5V632.8H1381.5V634.8H1382.5V631.4H1383.5V636.4H1384.5V637.7H1385V634.3H1385.5V635.2H1386V637.7H1386.5V633.5H1387.5V626.3H1388.5V623.7H1389.5V624.6H1390.5V625.6H1391.5V626.2H1392.5V630.8H1393V628.6H1393.5V632.1H1394.5V630.4H1395.5V632.8H1396V629.5H1396.5V633.6H1397V630.4H1397.5V634.4H1398V623.9H1399V497.6H1399.5V629.5H1400.5V635.9H1401.5V634.2H1402.5V634.9H1403.5V636.2H1404.5V635.9H1405V635.4H1405.5V633.8H1406V634.2H1406.5V634.1H1407.5V635.8H1408.5V637.6H1409.5V637.8H1410.5V636.2H1411V636.3H1411.5V636.1H1412.5V636.3H1413.5V637.8H1414V637.7H1414.5V636.8H1415.5V634.4H1416.5V632.9H1417V620H1417.5V633.1H1418V633.3H1418.5V633H1419.5V637H1420.5V636.7H1421.5V636.6H1422V633.5H1422.5V635.3H1423V632H1423.5V636.5H1424V633H1424.5V631.2H1425V634.7H1425.5V630.6H1426V631.5H1426.5V633.6H1427.5V635.9H1428V635.8H1428.5V637H1429V636.8H1429.5V637.3H1430V637.6H1431.5V635.4H1432V637.6H1433.5V636.8H1434.5V635H1435V635.8H1435.5V635.6H1436.5V634.8H1437.5V632.9H1439.5V631.8H1440.5V634.6H1441.5V636.1H1442V635.6H1442.5V636.9H1443V637.4H1443.5V636H1444.5V632.8H1445.5V608.8H1446V633.5H1446.5V633.7H1447.5V633.6H1448.5V635H1449.5V635.2H1450.5V634.6H1451.5V635.7H1452.5V637.1H1453.5V637.3H1454.5V637.1H1455V636.1H1455.5V635.4H1456V636.1H1456.5V634.8H1457.5V634H1458.5V633.8H1459V631.9H1459.5V632.8H1460V634.7H1460.5V633.7H1461V635.8H1461.5V637.2H1463.5V636.5H1464.5V635.2H1465V635.3H1465.5V636.7H1466.5V636.2H1467V632.3H1467.5V631.8H1468V635.7H1468.5V633.3H1469V633.5H1469.5V635.5H1470.5V635.8H1471.5V631.4H1472.5V601.2H1473V633.7H1474V637.1H1475.5V635.9H1476.5V632H1477V632.6H1477.5V633.9H1478.5V635.6H1479.5V637H1480.5V636.3H1481.5V636.6H1482.5V635.4H1483.5"/>
<path class="tr" d="M63.5 1351.4H64.5V1350.9H65.5V1349.6H66V1349.7H66.5V1349.9H67.5V1350H68V1349.7H68.5V1350H69V1347.8H70V1336H70.5V1348H71.5V1347.4H72.5V1338.6H73.5V1281H74.5V1343H75.5V1347.6H76V1348.5H76.5V1344.2H77.5V1317.9H78V1345.6H78.5V1343.8H79V1343.2H79.5V1344.2H80V1344.9H80.5V1332.3H81V1336H81.5V1348H82V1338.5H82.5V1346.2H83V1342.3H83.5V1344.8H84V1347.9H84.5V1336.3H85V1343.7H85.5V1345.9H86V1347H86.5V1336.4H87.5V1348.2H88.5V1336.8H89.5V1345H90V1334.7H90.5V1344.9H91V1337.3H91.5V1346.7H92.5V1334.3H93V1345.7H93.5V1337.5H94.5V1342.6H95V1337.6H95.5V1331H96V1330.3H96.5V1345.2H97V1334.3H97.5V1345.7H98V1342.9H98.5V1345.6H99.5V1345.2H100.5V1345.3H101V1340.8H101.5V1339.4H102V1343.9H102.5V1341.9H103.5V1343.9H104V1343.8H104.5V1344.6H105V1344.7H105.5V1344.1H106.5V1345.3H107.5V1346.6H108.5V1344.8H109.5V1346.9H110.5V1348H111.5V1348.5H112.5V1346.6H113.5V1344.9H114.5V1346.4H115.5V1345.7H116.5V1343.9H117.5V1343.3H118.5V1345.1H119.5V1346.4H120.5V1347.4H121.5V1338.7H122V1348H123V1349H124.5V1348.3H125V1348.4H125.5V1346.7H127.5V1346.2H128.5V1347.3H129V1344H129.5V1345.1H130.5V1346.2H131.5V1344.7H132V1340.4H132.5V1348.2H133V1347H133.5V1345.8H134V1336.2H134.5V1346.8H135.5V1345.8H136V1345.1H136.5V1347.8H137.5V1349H138V1346.6H138.5V1343.8H139V1346.2H139.5V1346.4H140.5V1344.8H141.5V1347.1H142.5V1343.3H143.5V1343.6H144V1342.6H144.5V1341.2H145V1341.9H145.5V1343.3H146.5V1346.1H147.5V1348H148.5V1340.6H149.5V1296.4H150V1341.8H150.5V1342.3H151V1343.2H151.5V1312.8H152V1342.8H152.5V1343.3H153.5V1339.5H154.5V1346.4H155.5V1344.9H156V1343.7H156.5V1323.5H157V1343.3H157.5V1342.8H158.5V1342.9H159.5V1347.1H160.5V1344.8H161.5V1345.4H162.5V1343.7H163.5V1349H164.5V1343H165.5V1341.6H166V1341.7H167V1341.6H167.5V1343.2H168.5V1344.7H169.5V1347.3H170V1345.8H170.5V1341.3H171.5V1343.3H172.5V1338.3H173.5V1346H174.5V1347.1H175.5V1348.3H176.5V1342.1H177V1336.4H177.5V1342.9H178V1331H178.5V1341.6H179.5V1346.5H180V1342.6H180.5V1343.3H181V1346.7H181.5V1343.2H182.5V1344.1H183V1338.2H183.5V1342.4H184V1337.5H184.5V1340H185V1344.9H185.5V1346.4H186.5V1346.9H187.5V1342.4H188V1341.4H188.5V1342.4H189V1343.5H189.5V1342.9H190.5V1347.2H191V1342.3H191.5V1341.1H192V1344.5H192.5V1347H193V1345.4H193.5V1343.9H194.5V1343.2H195.5V1342.3H196.5V1340.4H197.5V1343.9H198V1338H198.5V1340.6H199.5V1336.7H201V1338H201.5V1336.8H202V1335.5H202.5V1340.2H203V1335.7H203.5V1324.8H204V1338H204.5V1338.7H205.5V1339.4H206V1343.8H206.5V1345.5H207V1341H207.5V1344.6H208V1343.3H208.5V1341.9H209V1319.7H209.5V1342.8H210.5V1344.4H211V1343.9H211.5V1344.8H212V1345.2H212.5V1341.9H213V1347.3H213.5V1340.7H214V1347.2H214.5V1347.1H215.5V1346.9H216.5V1343H217V1345H217.5V1344.4H218.5V1344.8H219V1346.5H219.5V1346.4H220.5V1342.1H221.5V1344.2H222V1343.1H222.5V1340.2H223V1341H223.5V1336.4H224V1338.6H224.5V1341.4H225.5V1338.9H226V1323.5H226.5V1341.1H227V1343.2H227.5V1341.5H228.5V1338H229.5V1340.4H230.5V1341H231.5V1341.7H232V1338.5H232.5V1341H233.5V1340.3H234V1335.2H234.5V1336.6H235V1339.6H235.5V1317H236V1341.3H236.5V1328.9H237V1331.4H237.5V1267.7H238V1336.2H239V1338H239.5V1332.8H240V1312H240.5V1340H241V1333.4H241.5V1333.1H242V1340.7H242.5V1332.7H243V1337.9H243.5V1314.6H244V1339.6H245V1335.6H245.5V1340H246.5V1341H247V1339.4H247.5V1339.6H249V1335.9H249.5V1335.7H250V1339.4H250.5V1333.1H251.5V1339.1H252.5V1337.3H253V1329.9H253.5V1334.3H254V1330.9H254.5V1302H255V1334.3H255.5V1331H256.5V1336.6H257V1327.5H258V1262H259V1326.4H260V1256.3H261V1325.8H261.5V1331.8H262V1332.9H262.5V1298H263V1335.6H263.5V1334.6H264V1335.1H264.5V1331.5H265.5V1333.2H266V1331H266.5V1335.9H267V1328.3H267.5V1337.5H268.5V1336.9H269.5V1336.2H270V1328.9H270.5V1328.5H271V1335.8H271.5V1335.2H272.5V1337.2H273V1337.1H273.5V1338.3H274.5V1337.9H275.5V1338H276V1325.4H276.5V1326.1H277V1334.9H277.5V1319.7H278V1336.1H278.5V1323.6H279.5V1223.9H280V1329.2H281V1330.3H281.5V1332.6H282V1336.1H282.5V1322.8H283V1334.2H283.5V1331.2H284V1336H284.5V1335.8H285.5V1330H286V1332.7H286.5V1333.1H287V1336.8H287.5V1326.2H288.5V1335.4H289.5V1330H290V1331.3H290.5V1329.8H291V1333.6H291.5V1325.6H292V1326.2H292.5V1336.1H293V1327.2H294V1336H294.5V1332.9H295V1336.1H295.5V1330.4H296.5V1334.1H297V1332.1H297.5V1333.8H298.5V1333.4H299V1333H299.5V1331.4H300V1331.7H300.5V1321.8H301.5V1325.2H302.5V1265.7H303V1329.7H303.5V1328.5H304.5V1285.5H305V1331.7H306V1329H306.5V1333.5H307V1327.7H307.5V1324.4H308V1330.2H308.5V1329.5H309V1330.6H309.5V1329.6H310V1328.9H310.5V1290.5H311V1332.5H311.5V1330.2H312.5V1294H313V1333H314V1335.8H314.5V1336.8H315.5V1337.3H316V1329.3H316.5V1327.2H317V1335.2H317.5V1323.7H318V1334.8H319V1330.6H320V1294.3H320.5V1333.4H321V1331.8H321.5V1337H322V1333.3H322.5V1323.8H323.5V1095H324.5V1329.4H325V1324H326V1010H326.5V1333.9H327V732.9H327.5V1334H328V732.9H328.5V1010H329V1329.6H330V1324.2H331V1063H331.5V1329.8H332.5V1336.3H333.5V1337H334V1334.3H335V1313H335.5V1335.5H336.5V1329.7H337V1331.5H337.5V1334.6H339V1328.6H339.5V1335.8H340V1326.5H340.5V1327.2H341V1336.5H341.5V1336.8H342V1317.9H342.5V1336.7H343V1328H343.5V1337.5H344V1329H344.5V1336.8H345V1317.2H345.5V1322.2H346V1336.8H346.5V1338.3H347V1317H347.5V1324.7H348V1317.2H348.5V1250.5H349V1330.3H349.5V1311.6H350V1326.7H350.5V1264H351V1331.5H351.5V1310.5H352V1335.2H352.5V1337.2H353V1331H354V1290.5H354.5V1334.1H355V1313.7H355.5V1337.7H356V1322.6H356.5V1338.7H357V1322.4H357.5V1338.7H358V1313.2H358.5V1337.9H359V1324.4H359.5V1336.4H360V1324.4H360.5V1335.5H361V1333.4H361.5V1324.7H362.5V772.5H363V1334.7H363.5V772.5H364.5V700.3H365V1324.7H365.5V1115.6H366.5V1330.3H367.5V1332.4H368.5V1333.6H369.5V1334.9H370.5V1334.6H371V1329.7H371.5V1336.6H372.5V1337.4H373V1326.7H374V1264H374.5V1324.7H375V1089.8H375.5V1330.3H376V1324.7H377V1241H377.5V1330.3H378.5V1338.7H379V1335.8H379.5V1338.7H380V1332.1H380.5V1331.4H381.5V1293H382V1334.3H383V1334.6H383.5V1333.4H385V1305.7H385.5V1335.5H386.5V1336.9H387.5V1338.4H388.5V1337.2H389V1337.3H389.5V1331.4H390.5V1293H391V1330.3H391.5V1334.3H392V1330.9H392.5V1330.3H393V1334H393.5V1336.6H394.5V1335.2H395.5V1332.3H396.5V1332H397V1329.1H397.5V1325.8H398V1328.2H398.5V1325.5H399.5V1332.9H400.5V1338.4H401.5V1334.8H402.5V1315.4H403V1336.3H404V1337.9H404.5V1337.1H405.5V1334.9H406V1335H406.5V1337.8H407.5V1338.3H408.5V1338.4H409V1331.1H409.5V1329.8H410V1337.1H410.5V1329.4H411V1334.2H411.5V1330.1H412.5V1330.4H413V1328.2H413.5V1317H414V1325.6H414.5V1328.8H415V1331.2H415.5V1294H416V1332.1H416.5V1333.7H417V1324.2H418V1160H418.5V1334.2H419V1152.4H420V1329.8H421V1334.9H421.5V1337.1H422.5V1338.1H423V1338H424V1338.1H424.5V1338H425.5V1337.9H426V1332.6H427V1304.5H427.5V1331.9H428.5V1327.9H429V1328.5H429.5V1333.7H430.5V1334.6H431V1317H431.5V1334.4H432.5V1326.8H433V1333H433.5V1327.5H434V1321.3H434.5V1290.5H435V1319.4H435.5V1317.9H436.5V1250H437V1316.6H437.5V1321.8H438.5V1315.2H439.5V1314H440.5V1311.7H441V1312.9H441.5V1307.4H442V1306.2H442.5V1295.2H443.5V1283.2H444.5V1257.8H445V1263H445.5V1260H446.5V1270.1H447V1273.3H447.5V1281.1H448V1281.7H448.5V1291.6H449V1291.1H449.5V1302.6H450.5V1323H451.5V1327.2H452V1331.2H452.5V1333.1H453.5V1335.9H454.5V1337.4H455.5V1337.5H457.5V1336.2H458.5V1323.6H459.5V1176H460.5V1323.6H461V1173.4H462V1329.2H463V1337.6H463.5V1337.1H464.5V1337.7H465V1333.3H465.5V1332.1H466V1334.6H466.5V1332.7H467.5V1328.9H468V1333.5H468.5V1334.2H469.5V1337.1H470.5V1337.2H471V1336.6H471.5V1335.4H472V1336H472.5V1335.4H473.5V1329.4H474.5V1285H475V1332.8H476V1331.2H476.5V1309.5H477V1335.2H477.5V1335.1H478.5V1338H479V1335.1H480V1338H480.5V1335.8H481.5V1336.4H482.5V1333.1H483.5V1335H484.5V1334.4H485.5V1338.2H486.5V1337.8H487.5V1335H488.5V1336H489.5V1336.6H490V1331.6H491V1296.4H492V1334.3H492.5V1331.7H493.5V1296.4H494.5V1334.3H495.5V1337H496V1336.6H496.5V1336.9H497V1337.2H497.5V1337H498.5V1336.4H499.5V1332.2H500V1335.7H500.5V1333.9H501.5V1335.4H502V1321H502.5V1335.4H503.5V1328.6H504V1336.3H504.5V1330.5H505V1333.3H505.5V1335.6H506.5V1337.9H507.5V1334.5H508.5V1337.5H509.5V1331H510V1335.6H510.5V1324.8H511.5V1106.8H512V1330.4H513V1337H513.5V1338.4H514V1334.7H514.5V1338.9H515.5V1337.9H516V1330H517V1283H517.5V1333.6H518V1331.8H519V1294.3H519.5V1332.4H520V1334.7H520.5V1331.7H521.5V1336.9H522.5V1337.7H523.5V1338.5H524V1334.4H524.5V1333.2H525V1337.1H525.5V1337.8H526.5V1334H527.5V1338.8H528V1337.5H528.5V1336.4H529V1337.7H529.5V1328.9H530.5V1269.7H531V1333.5H532V1336.1H532.5V1313.3H533V1336.6H533.5V1336.4H534.5V1337.7H535.5V1338.5H536.5V1340.4H537V1339.4H537.5V1338.2H538V1339H538.5V1338.7H539V1339.5H539.5V1338H540.5V1338.3H541.5V1336.4H542.5V1340.9H543.5V1341.7H544.5V1339.9H545.5V1338.3H546.5V1337.6H547V1336H547.5V1336.9H548V1338.4H548.5V1337.2H549V1339.8H549.5V1335H550V1340.5H550.5V1341.3H551.5V1335H552V1341.3H552.5V1340.1H553.5V1338.3H554V1338.2H554.5V1339.2H555V1332.9H555.5V1338.3H556.5V1339.1H557.5V1339.4H558.5V1341.3H559.5V1341.2H560V1341.3H560.5V1341.4H561.5V1341.9H562.5V1342.3H563V1342.2H563.5V1342H564V1340.2H564.5V1338.8H565V1340.7H565.5V1339.1H566V1339.3H566.5V1341.5H567.5V1342.8H568V1342.5H568.5V1342.6H569V1342.8H569.5V1343H570.5V1342.2H571.5V1342.3H572.5V1341.7H573.5V1341.2H574.5V1340.8H575V1339.5H575.5V1339.9H576V1341.1H576.5V1342H577.5V1340.9H578.5V1342.8H579.5V1342.6H580.5V1342.9H581.5V1341.4H582.5V1342.4H583.5V1341.1H584.5V1342.4H585.5V1340.9H586.5V1341.4H587V1341.2H587.5V1341.6H588V1341.7H588.5V1342.1H589.5V1341.5H590.5V1342.2H591.5V1342.5H592V1340.8H592.5V1340.4H593V1342H593.5V1341.3H594.5V1341.7H595.5V1341.5H597V1341.8H597.5V1331H598V1342H598.5V1341.6H599V1341.1H599.5V1329H600V1342.5H601V1343.8H601.5V1343.7H603.5V1342.6H604.5V1343.4H605V1342H605.5V1342.3H606.5V1342.5H607V1341.4H607.5V1342.8H608V1332.8H609V1273.5H609.5V1337.4H610.5V1343H611V1343.1H611.5V1341.9H612.5V1342H613.5V1342.6H614.5V1342.7H615.5V1342.9H616V1340.8H616.5V1340.9H617V1342.1H617.5V1343.1H618.5V1344.3H619.5V1344.2H620.5V1344.3H621.5V1343.3H622.5V1342H623.5V1341.5H624V1341H625V1341.6H625.5V1343.6H626.5V1341.1H627.5V1341.9H628.5V1340.5H629V1339.7H629.5V1341.5H630V1342H630.5V1341.9H631.5V1343.6H632V1342.3H632.5V1343.1H633V1344.4H633.5V1344.3H634.5V1342.2H635V1343.4H635.5V1341H636.5V1339.6H637.5V1341.3H638.5V1342.8H639.5V1344.2H640.5V1344.3H641.5V1343.9H642.5V1343.7H643V1343.1H644V1343.7H644.5V1343.3H645.5V1342.5H646V1342.6H646.5V1342.8H647V1342.4H647.5V1342.9H648.5V1343H649.5V1342.1H650V1342.4H650.5V1343.7H651V1342.4H651.5V1343.1H652V1344.3H652.5V1343.4H653.5V1342.9H654.5V1340.2H655V1341H655.5V1342.9H656V1341.1H656.5V1341.3H657V1342.6H657.5V1342.9H658.5V1341.3H659.5V1344.6H660V1343H661V1332.9H661.5V1343.8H662.5V1343.6H663.5V1344H664.5V1341.9H665V1342.4H665.5V1344.8H666V1343.1H666.5V1342.7H667V1344.4H667.5V1344H668.5V1342.6H669.5V1337.3H670.5V1296.4H671V1340.4H672V1343.8H672.5V1344.2H673V1342.9H673.5V1342.5H674V1343.8H674.5V1343.6H675.5V1343.4H676.5V1343.7H677.5V1344H678.5V1344.1H680.5V1342.6H681.5V1342.4H682.5V1343H683.5V1343.8H684.5V1342H685V1343.7H685.5V1343.5H686.5V1343.6H687.5V1334.9H688V1344.2H688.5V1343.6H689V1342.4H690V1343.5H690.5V1343.4H691V1343.6H691.5V1345.1H692.5V1345.4H693V1344.1H693.5V1343.6H694V1344.7H694.5V1344H695.5V1342.9H696.5V1344.6H698V1344.5H699.5V1343.5H700V1342.7H700.5V1343.9H701.5V1345.2H702.5V1345.5H703.5V1345.6H704V1345H704.5V1345.2H705V1344.4H705.5V1343.9H706V1344.6H706.5V1344.2H708.5V1343.1H709.5V1343.7H710.5V1344.5H711.5V1344.7H712.5V1345.7H713.5V1345.1H714.5V1345.3H715V1341.8H716V1321H716.5V1343.4H717.5V1344.5H718V1344H718.5V1344.2H719.5V1344.3H720.5V1344.5H721.5V1345.1H722.5V1345.8H724.5V1345.1H725V1343.4H726V1344.4H726.5V1344.9H727.5V1345.9H729.5V1345.5H730.5V1343.1H731V1343.3H731.5V1345.4H732V1345.1H732.5V1345.6H733V1345.7H733.5V1346H736.5V1345.6H737.5V1345.4H738.5V1344.4H739.5V1345.1H740.5V1345H741.5V1345.5H742.5V1339.7H743.5V1305.7H744V1342.3H745V1344.9H745.5V1346.2H746V1345.7H746.5V1345.4H747V1345.8H747.5V1346.2H748.5V1345.2H749.5V1345.7H750V1345H750.5V1344.3H751V1345H751.5V1342.3H752V1344.1H752.5V1343.3H753.5V1344.2H754.5"/>
<path class="tr" d="M796.5 1297.4H797V1336.9H798V1341.1H798.5V1344.7H799.5V1346.8H800V1346H800.5V1348.5H801V1349H801.5V1341.5H802.5V1345.5H803.5V1344.1H804V1314.2H804.5V1346.3H805V1312.4H805.5V1341.3H806V1300.1H806.5V1300.7H807V1300.2H807.5V1344.4H808V1308.4H808.5V1337.4H809V1276.6H809.5V1342.1H810V1308H811V1349H811.5V1307.6H812V1349H812.5V1323.6H813V1349H813.5V1323.8H814V1344.7H814.5V1316.4H815V1346.1H815.5V1339.2H816V1346.3H816.5V1331.4H817V1344.2H817.5V1323.6H818V1344H818.5V1331.7H819V1346.4H819.5V1326.7H820.5V1340.5H821V1310.2H821.5V1295.6H822V1308.7H822.5V1342H823V1304.1H823.5V1310H824V1307.4H824.5V1342.9H825V1312.4H825.5V1344.9H826V1310.4H826.5V1345.2H827V1308.2H827.5V1346.1H828V1339.4H828.5V1340.7H829V1347.3H829.5V1343.9H830V1347.6H830.5V1341.2H831V1346.8H831.5V1344.6H832V1349.1H833V1339.8H833.5V1349H834V1345.4H834.5V1344.7H835V1340.2H835.5V1341H836V1344.3H836.5V1345.1H837.5V1347H838V1347.6H838.5V1343.6H839V1343.3H839.5V1340.1H840V1312.6H840.5V1345.4H841.5V1346.1H842.5V1344.8H843.5V1346.6H844V1344.5H844.5V1342.9H845V1345H845.5V1348.3H846.5V1345.3H847.5V1329H848V1345.9H848.5V1332.1H849V1345H849.5V1323.5H850V1348H850.5V1322.3H851V1347.8H851.5V1328.6H852V1343.9H852.5V1326.6H853V1344.3H853.5V1318.4H854V1344.3H854.5V1326.4H855V1349.1H855.5V1347.9H856.5V1349.2H857.5V1348.2H858.5V1345.7H859V1342.6H859.5V1340.9H860V1341.5H860.5V1304.2H861V1301.2H861.5V1301.5H862V1344.6H862.5V1306.8H863V1349.2H863.5V1305.9H864V1340.9H864.5V1312.5H865V1297.4H865.5V1341.8H866.5V1344.3H867.5V1340.6H868V1341.4H868.5V1347.4H869V1345.9H869.5V1345.6H870V1346.6H870.5V1342.6H871V1343H871.5V1337.3H872V1342.5H872.5V1324.6H873V1341.4H873.5V1327.4H874V1310.6H874.5V1313.5H875V1299.3H875.5V1305.2H876V1290.4H876.5V1302.2H877V1294.9H877.5V1311.8H878V1301.1H878.5V1325.5H879V1312H879.5V1334.3H880.5V1335.8H881V1346.1H882V1323.6H882.5V1333.2H883V1349H883.5V1328.9H884V1348.2H884.5V1324.5H885V1325.1H885.5V1347.1H886.5V1325.7H887V1328.4H887.5V1318.4H888V1331.1H888.5V1346.3H889V1339H889.5V1346.8H890.5V1334.3H891V1346.8H891.5V1322.9H892V1345.2H892.5V1321.8H893V1345.9H893.5V1339.3H894V1348.7H894.5V1323.8H895V1349.3H896V1328.7H896.5V1349H897V1331.9H897.5V1346.6H898V1327.5H898.5V1346.6H899V1319.4H899.5V1318.9H900V1346.1H900.5V1324.8H901V1346.1H901.5V1318.5H902V1348.1H902.5V1326.4H903V1349.4H903.5V1342.2H904V1349.1H904.5V1327.5H905V1347.2H905.5V1339.5H906V1347.3H906.5V1346.2H907V1346.3H907.5V1337.1H908.5V1272.8H909V1342H909.5V1334.7H910.5V1344.6H911V1332.8H911.5V1333.1H912V1344.9H912.5V1342.8H913V1346.4H913.5V1345.8H914V1346.7H914.5V1349.4H915V1342.3H915.5V1348.9H916V1335.9H916.5V1347H917V1334H917.5V1343.6H918.5V1329.1H919V1343.8H919.5V1343H920.5V1309.7H921V1342H921.5V1322H922V1303.2H922.5V1315H923V1345H923.5V1322.8H924V1344.8H924.5V1303.3H925V1346.1H925.5V1331.1H926V1334.5H926.5V1290.5H927V1322.5H927.5V1335.4H928V1240.3H928.5V1341H929V1324.8H929.5V1349.4H930.5V1305H931V1349.4H931.5V1310.9H932V1349.5H932.5V1321.1H933V1347.9H933.5V1303.1H934V1345.5H934.5V1305H935V1323.3H935.5V1343.7H936V1331.2H936.5V1339H937V1284.2H937.5V1314.7H938V1343.1H938.5V1326.2H939V1336.3H940V1267.2H940.5V1333H941V1341.6H941.5V1347.6H942.5V1344.6H943V1345.2H943.5V1343.2H944.5V1342H945.5V1340.7H946.5V1341.6H947V1336.1H947.5V1346.1H948V1339.9H948.5V1340.6H949V1346.9H949.5V1326.4H950V1346.7H950.5V1328.7H951V1336.5H951.5V1278.6H952.5V1341H953V1306.9H953.5V1345.4H954V1301.6H954.5V1303.9H955V1341.5H955.5V1335.2H956.5V1278.6H957.5V1339.5H958.5V1327.5H959V1331.9H959.5V1341.4H960V1333H960.5V1338.7H961V1337.9H961.5V1342.1H962V1342.7H962.5V1338.4H963V1340.5H963.5V1333.5H964.5V1276.6H965V1336.7H965.5V1330H966.5V1244.4H967V1329.8H967.5V1335.6H968V1321.2H968.5V1340.3H969V1321.5H969.5V1323.3H970V1337.4H970.5V1318.8H971V1338.9H971.5V1316.7H972V1329H972.5V1221.3H973V1330.1H973.5V1334.6H974V1323.7H974.5V1298H975V1334.2H975.5V1338.4H976V1327.4H976.5V1337.6H977V1319.7H977.5V1323.7H978V1336.3H978.5V1334H979V1339.2H979.5V1339.1H980V1321.3H980.5V1340.3H981V1322.2H981.5V1341.6H982V1335.4H982.5V1341.4H983V1326.7H983.5V1327.2H984V1242.4H984.5V1332.8H985.5V1322H986V1338.6H986.5V1326.7H987V1339.7H987.5V1325.9H988V1339.4H988.5V1322.1H989V1331.1H989.5V1280.4H990V1334.9H990.5V1330H991V1336.6H991.5V1325.7H992V1335.4H992.5V1318.5H993V1326.4H993.5V1222.9H994V1325.6H994.5V1332H995V1320.8H995.5V1320.9H996V1337H996.5V1318.5H997V1336.7H997.5V1328.4H998V1329.2H998.5V1330.5H999V1280.4H999.5V1334.3H1000V1326.5H1001V1255.8H1001.5V1320.8H1002V1331.9H1002.5V1326.9H1003V1339.2H1003.5V1340H1004V1322.6H1004.5V1325.3H1005V1339.9H1005.5V1317.7H1006V1325.9H1006.5V1325.1H1007V1183.3H1007.5V1335.9H1008V1183.3H1009V1320.4H1009.5V1328.3H1010V1267.7H1010.5V1332.9H1011.5V1334.3H1012V1330.4H1012.5V1333.8H1013V1336.3H1013.5V1320.7H1014V1333.7H1014.5V1302H1015V1335.6H1015.5V1334.7H1016V1326.9H1016.5V1338.2H1017V1334.7H1017.5V1338.1H1018V1324.7H1018.5V1336.6H1019V1329.7H1019.5V1334.9H1020V1309.5H1020.5V1336.5H1021V1328.1H1021.5V1329.3H1022V1337.7H1022.5V1330.6H1023V1337H1023.5V1339.5H1024V1328.5H1024.5V1339.6H1025V1334.2H1025.5V1339.5H1026V1330.9H1026.5V1328.3H1027V1330.1H1027.5V1280.4H1028V1333.9H1028.5V1333.1H1029V1334.9H1029.5V1338.2H1030V1328.9H1030.5V1335.1H1031V1333.5H1031.5V1336.1H1032V1329.2H1032.5V1336.7H1033V1327.2H1033.5V1337.1H1034V1311.5H1034.5V1334.5H1035V1319.3H1035.5V1333.9H1036V1304.5H1036.5V1336.1H1037V1322.9H1037.5V1323.8H1038V1339.4H1038.5V1331H1039V1337.7H1039.5V1323.5H1040V1336H1040.5V1315.1H1041V1329.1H1041.5V1274.8H1042V1333.2H1042.5V1320.2H1043V1327H1043.5V1338.7H1044V1319.5H1044.5V1337H1045.5V1328.2H1046V1333.4H1046.5V1321.4H1047V1334.9H1047.5V1321.9H1048V1326.2H1048.5V1257.6H1049V1331.5H1049.5V1317.6H1050V1329.5H1050.5V1318.2H1051V1278H1052V1322.1H1052.5V1325.2H1053V1077.6H1053.5V1325.2H1054V1321.5H1054.5V1242H1055.5V1325.2H1056V1322H1056.5V1242H1057.5V1320.9H1058V1159H1059V1330.8H1059.5V1323.2H1060V1325.1H1060.5V841.7H1061V1330.7H1061.5V1328.6H1062V1334.4H1062.5V1328.7H1063V1333.3H1063.5V1323.9H1064V1333.8H1064.5V1328.9H1065V1335.3H1065.5V1329.8H1066V1336H1066.5V1329.2H1067V1338.6H1067.5V1331.4H1068V1339H1068.5V1329.1H1069V1339H1069.5V1336.2H1070V1324.4H1070.5V1325.1H1071V1335.8H1071.5V1334.8H1072V1326.8H1072.5V1326.5H1073V1334.5H1073.5V1312.6H1074.5V1334.6H1075V1322.1H1075.5V1335.7H1076V1321.5H1076.5V1332.8H1077V1314.2H1077.5V1302H1078V1318.5H1078.5V1335.1H1079V1324.3H1079.5V1336.5H1080V1312.6H1080.5V1338.3H1081V1324.3H1081.5V1336.1H1082V1325.3H1082.5V1324.4H1083.5V1141H1084V1318H1084.5V1324.3H1085V1219.6H1086V1329.9H1086.5V1323.1H1087V1334.3H1087.5V1323.6H1088V1329.7H1088.5V1336.3H1089V1327.4H1089.5V1336H1090V1326.6H1090.5V1331.6H1091V1317.2H1091.5V1333.4H1092V1322.4H1092.5V1333.9H1093V1329.5H1093.5V1333.5H1094V1321.4H1094.5V1323.8H1095.5V793.3H1096V1333.8H1096.5V722.6H1097V793.3H1097.5V1322.8H1098.5V1332.5H1099V1321.1H1099.5V1321.2H1100V1332.7H1100.5V1335.1H1101V1330.3H1101.5V1334.4H1102V1326.2H1103V1334.4H1103.5V1326H1104V1332.5H1104.5V1324.2H1105V1334.7H1105.5V1324.8H1106V1327.6H1107V1278.6H1107.5V1317.1H1108V1328.2H1108.5V1283H1109V1331.7H1110V1319.6H1110.5V1336.6H1111V1324.3H1111.5V1336.5H1112V1318.6H1112.5V1334.2H1113V1324.7H1113.5V1332H1114V1320.7H1114.5V1331.7H1115V1313.9H1115.5V1333.6H1116.5V1333.1H1117.5V1334.3H1118.5V1335.7H1119V1321.6H1120V1222H1121V1321.4H1122V1209.4H1123V1327H1123.5V1298.4H1124V1319.4H1124.5V1324.1H1125V1303.1H1125.5V1327.9H1126.5V1312.9H1127V1334.9H1128V1317.4H1128.5V1334.8H1129V1322.7H1129.5V1334.7H1130V1326.1H1130.5V1334.6H1131V1329.7H1131.5V1325.3H1132V1332.4H1132.5V1330.5H1133V1323.7H1133.5V1323.2H1134V1330H1134.5V1327.4H1135V1331.6H1135.5V1325.1H1136V1325.3H1136.5V1334.2H1137.5V1333.4H1138.5V1328.9H1139V1330.8H1139.5V1325.5H1140V1330.4H1140.5V1329.5H1141V1321.6H1141.5V1326.2H1142V1331H1142.5V1326.7H1143.5V1333.8H1144V1331.1H1144.5V1334.1H1145V1319.7H1145.5V1333.2H1146V1314.3H1146.5V1333.6H1147V1317.6H1147.5V1326.7H1148V1315.9H1148.5V1288H1149V1316H1149.5V1326.5H1150V1310.6H1150.5V1288H1151V1321.2H1151.5V1329.5H1152V1311.4H1152.5V1333.3H1153V1313H1153.5V1333H1154V1324H1154.5V1319.2H1155V1328.3H1155.5V1323.1H1156.5V1298.4H1157V1309.9H1157.5V1292.6H1158V1119.3H1158.5V1283.2H1159V1291.8H1159.5V1280.7H1160V1272.1H1160.5V1267.8H1161V1279.1H1161.5V1266.7H1162V1280.7H1162.5V1266.5H1163V1274.9H1163.5V1273.9H1164V1265.4H1164.5V1278.8H1165.5V1260.6H1166V1177H1166.5V1266H1167V1252H1167.5V1252.1H1168V1255.3H1168.5V1252H1169V1267.1H1169.5V1251.3H1170V1253.8H1170.5V1251.5H1171V1266.6H1171.5V1252.2H1172V1259H1172.5V1292.3H1173.5V1316.3H1174V1309H1174.5V1318.1H1175V1304H1175.5V1312.6H1176V1323.6H1176.5V1309.7H1177V1309.9H1177.5V1326.2H1178V1314.3H1178.5V1314.1H1179V1325.3H1179.5V1311.2H1180V1322.4H1180.5V1308.8H1181V1322.9H1181.5V1310.7H1182V1323.3H1182.5V1314.6H1183V1322.2H1184.5V1321.3H1185V1323.9H1185.5V1319.2H1186V1324H1186.5V1320.9H1187.5V1321.9H1188V1313.5H1188.5V1322.1H1189.5V1318H1190V1321.1H1190.5V1320.2H1191V1322.8H1191.5V1310.9H1192.5V1322.1H1193.5V1313.2H1194V1322.4H1194.5V1315.7H1195.5V1322.6H1196V1314.3H1196.5V1311.8H1197V1320.1H1197.5V1319.7H1198V1310.7H1198.5V1319.8H1199.5V1322.2H1200.5V1321.8H1201V1321.7H1201.5V1320.2H1202.5V1319.5H1203.5V1321.4H1204V1320.6H1204.5V1321.3H1205V1321.8H1205.5V1319.3H1206V1319.4H1206.5V1317.1H1208.5V1318.1H1209V1317.7H1209.5V1317.2H1210V1317.6H1210.5V1318.7H1211.5V1320H1212.5V1320.3H1213.5V1320.6H1214.5V1320.3H1215.5V1322H1216.5V1320.8H1217.5V1319.6H1218.5V1318.3H1219.5V1318.7H1220.5V1318.6H1221.5V1319.5H1222.5V1320.2H1223.5V1322.7H1224.5V1323.6H1225V1319.6H1225.5V1322.8H1226V1320H1226.5V1317.8H1227V1320.6H1227.5V1321.4H1228.5V1314.1H1229.5V1265H1230.5V1313.6H1231V1261.4H1232V1317.5H1232.5V1312.9H1233V1317.7H1233.5V1319.6H1235.5V1320.9H1236.5V1319.6H1237.5V1320.5H1238V1317.6H1238.5V1319.8H1239V1315.3H1239.5V1321.5H1240V1316.6H1240.5V1323.6H1246.5V1321.7H1247V1320.1H1248V1301.4H1248.5V1317H1249V1321.5H1249.5V1323.1H1250.5V1320.9H1251.5V1318.3H1252.5V1313.8H1253V1316.6H1253.5V1318.6H1254.5V1318.7H1255.5V1320.5H1256.5V1317H1257V1317.3H1257.5V1317H1258V1313.4H1258.5V1313.5H1259V1317.2H1259.5V1315.8H1260.5V1320.3H1261.5V1318.8H1262.5V1316.8H1263V1309.7H1264V1167.3H1264.5V1253H1265V1315.3H1265.5V1317H1266V1318.2H1266.5V1322.9H1267.5V1323.7H1268V1320.1H1268.5V1319H1269V1321.3H1269.5V1316.4H1270V1317.2H1270.5V1316.7H1271.5V1317.9H1272V1316.6H1272.5V1322.5H1273V1323.8H1273.5V1316.6H1274.5V1323.8H1275V1317.7H1275.5V1312.8H1276V1318.9H1276.5V1317.3H1277.5V1315.9H1278.5V1318.4H1279V1318.6H1279.5V1315.8H1280V1319H1280.5V1323.1H1281.5V1321.3H1282.5V1323.9H1283.5V1314.1H1284V1321.5H1284.5V1314.7H1285V1314.8H1285.5V1319.1H1286.5V1320.6H1287V1315.6H1287.5V1318.8H1288V1323.8H1288.5V1323.9H1289.5V1322.4H1290.5V1322H1291V1318.1H1291.5V1316.7H1292V1320.6H1292.5V1320.2H1293.5V1314.9H1294V1316.9H1294.5V1320.7H1295V1318.5H1295.5V1319.1H1296V1321.1H1296.5V1313.7H1297.5V1317H1298.5V1319.4H1299.5V1318H1300.5V1316.8H1301V1312.4H1301.5V1314.1H1302V1317.6H1302.5V1321.2H1303V1316.8H1304V1279.9H1305V1316.8H1305.5V1316.3H1306V1279.9H1307V1314.8H1307.5V1319.6H1308V1318.9H1308.5V1317.7H1309V1320.1H1309.5V1319.6H1310.5V1313.3H1311V1319.9H1311.5V1319.3H1312.5V1315.6H1313V1303.9H1313.5V1321.2H1314V1316.2H1314.5V1320.6H1315V1315H1315.5V1316H1316V1321.6H1316.5V1320.1H1317.5V1319.7H1318.5V1318.3H1319.5V1295.8H1320V1318.2H1320.5V1320.8H1321V1320.9H1321.5V1321H1322V1315.9H1322.5V1318.1H1323V1321.9H1323.5V1319.3H1324V1322.3H1324.5V1323.3H1325.5V1322.2H1326V1315.8H1327V1276.8H1327.5V1316.3H1328V1318H1328.5V1313.4H1329V1291H1329.5V1320H1330.5V1322.8H1331V1323.1H1331.5V1319.3H1332.5V1322.5H1333.5V1318.2H1334.5V1319.1H1335V1313.2H1335.5V1315.4H1336V1321.4H1336.5V1321.6H1337.5V1320.6H1338.5V1308.8H1339.5V1212.9H1340.5V1105.9H1341V1314.4H1342V1319.9H1342.5V1320.2H1343.5V1320.7H1344V1322.1H1344.5V1321.8H1345.5V1318.5H1346.5V1318.9H1347V1313.9H1347.5V1312.6H1348V1317.6H1348.5V1317.4H1349.5V1318.7H1350.5V1318.8H1351.5V1320.2H1352.5V1316.5H1353V1317.6H1353.5V1320.4H1354.5V1320.1H1355.5V1320.3H1356.5V1321.4H1357V1321.3H1357.5V1322.2H1358V1322.3H1358.5V1318.8H1359.5V1322.2H1360.5V1321.2H1361.5V1321.1H1362V1318H1362.5V1319.5H1363V1321.6H1363.5V1320.9H1364.5V1312.1H1366.5V1314H1367V1312.3H1367.5V1313.8H1368V1315.5H1368.5V1307.7H1369V1318.2H1369.5V1317.8H1370.5V1319.1H1371.5V1318.4H1372.5V1318.2H1373.5V1318H1374.5V1316.1H1375V1317.5H1375.5V1314.4H1376V1315.3H1376.5V1316.2H1377.5V1316.9H1378.5V1319.2H1379.5V1321.1H1380V1321H1380.5V1319.5H1381V1319.6H1381.5V1318.2H1382.5V1315.8H1383V1316.5H1383.5V1319.5H1384V1316.3H1384.5V1318.2H1385V1320H1385.5V1318.3H1386.5V1318.6H1387.5V1316.4H1388.5V1313.7H1389.5V1313.3H1390.5V1278.6H1391V1317.2H1391.5V1315.4H1392.5V1285H1393V1317.7H1394V1312.6H1394.5V1313H1395V1317.2H1395.5V1319H1396.5V1320.3H1397.5V1319.7H1398.5V1319H1399.5V1319.2H1400V1309.1H1400.5V1307H1401V1247H1401.5V1193.9H1402V1312.6H1403V1314.7H1403.5V1315.1H1404.5V1317.4H1405.5V1319.9H1406V1319H1406.5V1320.1H1407V1320.9H1407.5V1317.2H1408.5V1320.8H1409V1315.9H1409.5V1317.7H1410V1320.8H1411.5V1317.6H1412V1319H1413.5V1318.5H1414.5V1318.4H1415.5V1317.6H1416.5V1318H1417.5V1317.7H1418V1314.8H1419V1284.4H1419.5V1317.2H1420.5V1318.1H1421.5V1317.1H1422.5V1317.6H1423.5V1313.8H1424V1317H1424.5V1319.1H1425.5V1318H1426.5V1319.5H1427V1318.3H1427.5V1316.3H1428.5V1315.8H1429.5V1315.3H1430.5V1316.7H1431.5V1317.3H1432.5V1318H1433V1313.9H1433.5V1314.6H1434V1318.8H1434.5V1318.6H1435.5V1316.7H1436.5V1319.1H1437V1319.3H1437.5V1318.8H1438.5V1320.2H1439.5V1318H1440V1318.1H1440.5V1320.2H1441V1316.7H1441.5V1317.4H1442V1320.2H1443.5V1318.6H1444.5V1319.9H1445V1309.4H1446V1253.3H1446.5V1265H1447.5V1314.8H1448.5V1319.8H1449.5V1319.6H1450V1318.1H1450.5V1315.8H1451V1316.8H1451.5V1311.7H1452V1315.3H1452.5V1315.4H1453.5V1317.1H1454.5V1313.1H1455.5V1314.4H1456V1310.5H1456.5V1309.2H1457V1313H1457.5V1313.8H1458V1313.9H1458.5V1318H1459V1314.1H1459.5V1316H1460V1319.8H1461.5V1319.1H1462.5V1316H1463.5V1319.8H1464.5V1318.7H1465V1316.5H1465.5V1316.4H1466V1318H1466.5V1313.9H1467.5V1310H1468.5V1315.8H1469.5V1315.7H1470V1315.2H1470.5V1318.4H1471V1318.9H1471.5V1315.6H1472V1307.1H1473V1241.9H1473.5V1315.6H1474V1241.9H1475V1312.1H1476V1315.4H1476.5V1316.1H1477.5"/>
<path class="tr" d="M63.5 2003.7H64V1999.4H64.5V2010.8H65.5V2027.9H66V2028H66.5V2034.4H67V2033H67.5V2034.3H68.5V2035.7H69V2034.1H69.5V2033.9H70V2035.4H70.5V2031.4H71.5V2034.3H72V1975.3H72.5V2037.3H73V1984.8H73.5V2038.7H74V1980.7H74.5V1986.6H75V2038.6H75.5V1978.5H76V2038.7H76.5V1984.1H77V2024.7H77.5V1917.5H78V2030.3H78.5V1986.6H79V2036.2H79.5V1986.2H80V2036.8H80.5V1984.4H81V2037.7H81.5V1976.2H82V2036.7H82.5V1990H83V2025.5H83.5V1979.1H84V1956.3H84.5V2030.8H85.5V2029.4H86.5V2024.7H87.5V1936.8H88.5V2024.7H89.5V1942H90.5V2030.3H91.5V2038.5H92.5V2035.4H93.5V2035.7H94V2025.7H94.5V2036.9H95.5V2024.7H96V2037.4H96.5V2025H97V2036.4H97.5V2034.4H98V2035.8H98.5V2027.3H99V2033.4H99.5V2005.7H100V2035.5H100.5V2005.6H101V2033.4H101.5V2005.7H102V2028.2H102.5V2011.9H103V1973.3H103.5V2006.1H104V2032.4H104.5V2006.5H105V2037.3H105.5V2037.2H106.5V2034.2H107.5V2035H108.5V2036.3H109V2036H109.5V2032.6H110.5V2000.7H111V2019.9H111.5V2034.8H112V2020.2H112.5V2035.3H113V2014.1H113.5V2024.7H114V2023.1H114.5V1888.6H115V2030.3H115.5V2024.7H116.5V1922H117V2030.3H118V2038.6H118.5V2037.5H119.5V2034.3H120V2034.7H120.5V2035.8H121V2035.2H121.5V2036.2H122V2036.9H122.5V2023.9H123V2034H123.5V2009.5H124V2035.9H124.5V2018.7H125V2038.2H125.5V2012H126V2037.3H126.5V2022.6H127V2024.8H127.5V1951.7H128V2030.3H129V2036.4H129.5V2034.7H130.5V2037H131V2033.2H131.5V2035.8H132V2034.3H132.5V2036.6H133.5V2035.5H134.5V2036H135V2034H135.5V2034.8H136V2036.8H136.5V2029.3H137.5V2010H138.5V1990.5H139.5V1976.2H140.5V1972.6H141.5V1984.9H142.5V1999.5H143.5V2013H144V2024.9H144.5V2028.3H145V2038.5H145.5V2036.9H146.5V2026.5H147V2027.9H147.5V1971.5H148V2032.2H148.5V1991.2H149V2030.6H149.5V1988H150V2024.7H150.5V1879.5H151V2030.3H151.5V2001.8H152V2037H152.5V2010.3H153V2037.1H153.5V2019.3H154V2038.7H154.5V2037.7H155.5V2036.9H156.5V2032.4H157.5V2035.6H158V2026.6H158.5V2029.7H159V2008.3H159.5V2035.8H160.5V2028.6H161V2036.8H161.5V2034.5H162V2038.2H162.5V2036.6H163V2022H163.5V2024.9H164V2036.2H164.5V2025.4H165V2026.9H165.5V2035.9H166V2025.2H166.5V2036.5H167V2021.1H167.5V2037.5H168V2034H168.5V2024.7H169.5V1905H170.5V2024.7H171V1898.5H172V2030.3H173V2036.3H173.5V2034H174.5V2037.3H175.5V2035.2H176V2034.9H176.5V2017H177V2036.6H178V2029H178.5V2038.7H179V2031.8H179.5V2032.4H180V2037.2H180.5V2029.5H181V2035.9H181.5V2035.6H182V2037.4H182.5V2023H183V2024H183.5V1873.9H184V2029.1H185V1979H185.5V2033H186.5V2037.5H187.5V2038.7H188.5V2004.6H189V2038.5H189.5V2023.6H190V2028.4H190.5V2037.7H191V2005.1H191.5V2032.2H192V1998H192.5V2034.8H193V2023.6H193.5V2036.3H194V2015.2H194.5V2024.7H195V1950.5H195.5V2030.3H196V2016.7H196.5V2036.8H197V2010.8H197.5V2036.7H198V2013.5H198.5V2035.2H199V2009.9H199.5V2036H200V2012.9H200.5V2024.7H201V1795.3H201.5V2034.7H202V1795.3H203V2030.3H204V2038.7H204.5V2038.6H205.5V2035.8H206.5V2035.7H207V2033.9H207.5V2034.4H208V2035.9H208.5V2037.5H209.5V2021.2H210.5V2034.6H211V2015.5H211.5V2031.4H212V1993H212.5V2034.3H213V2016.8H213.5V2017.4H214V2035.9H214.5V2034.2H215V2026.9H215.5V1997.6H216V1965H216.5V1977.6H217V2024.7H217.5V1990.4H218V1846.8H218.5V2002.7H219V2024.7H219.5V1904.3H220V2030.3H220.5V2022.3H221V2035.9H221.5V2036H222.5V2037.1H223.5V2036.5H224.5V2035.4H225.5V2035.1H226.5V2013.7H227V2035.6H227.5V2020.4H228V2037.1H228.5V2009H229V2035.5H229.5V2006.5H230V2033.4H230.5V2006.8H231.5V1747.2H232V2011.8H232.5V2028H233V2008H233.5V2030H234V2008.7H234.5V2012.8H235V1941H235.5V2001.7H236V2021.2H236.5V1950H237V2026.6H237.5V2001.3H238V2031H238.5V1998.2H239V2019.7H239.5V1890.9H240V2025.3H240.5V2007.4H241V2029.7H241.5V2024.9H242V2025.5H242.5V2024.6H243V1967.3H243.5V2023.7H244V1978H244.5V2010H245V1956.3H245.5V2014.1H246V1990.9H246.5V2001H247V1676H247.5V2006.6H248V1991H248.5V2011.3H249V1984.1H249.5V2003.3H250V1987.7H250.5V1948.7H251V1988.3H251.5V2007.4H252V1984.8H252.5V2010.3H253V1987.1H253.5V2007.9H254V1970.5H254.5V2005.9H255V1962.7H255.5V2008.5H256V1956.2H256.5V2008H257V1956.2H257.5V2006H258V1969.5H258.5V2005.4H259V1978.5H259.5V1977.8H260V2004.7H260.5V1958.3H261V1996.4H261.5V1963.2H262V1866.3H262.5V1943.8H263V2002H263.5V1973.4H264V2009.5H264.5V1980.1H265V1997.7H265.5V1954H266V1927H266.5V1948.9H267V2003.1H267.5V1949.4H268V2011.2H268.5V1971H269V1987.4H269.5V2011.9H270V1953.7H270.5V1998.3H271V1962.3H271.5V1639.6H272V1954.7H272.5V2003.9H273V1973.5H273.5V2011.8H274V1984.4H274.5V2010.9H275V1995.9H275.5V2009.8H276V1959.4H276.5V1968.8H277V1999.5H277.5V1904.3H278V2005.1H278.5V1969.6H279V2008.5H279.5V1972.9H280V2001.7H280.5V1979.1H281V1912.4H281.5V1984.3H282V2007.3H282.5V1984.7H283V2015.3H283.5V1998.6H284V2017.4H284.5V2009.7H285V2017.7H285.5V2019.1H286.5V2022.3H287.5V2023H288V2022.8H288.5V2024.2H289V2024.4H289.5V2025.1H290.5V2015.5H291V2017.5H291.5V2013.6H292.5V1948.7H293V2008.2H293.5V2018.6H294V2000.5H294.5V2020.9H295V1998.3H295.5V2017.4H296V1991.3H296.5V2015.3H297V1998.1H297.5V1998.3H298V1989H298.5V1874H299.5V1996.3H300V1871.9H301V1995.3H301.5V2001.9H302V1987.5H302.5V2006.6H303V1989.3H303.5V2004.2H304V1984.9H304.5V1961.4H305V2000.7H305.5V2007.5H306V2012.9H306.5V2010.7H307V2010.8H307.5V1981.6H308V2007.8H308.5V1961.8H309V2013.8H309.5V1961.2H310V2012.7H310.5V2000.1H311V1960.8H311.5V1896.7H312V1959.9H312.5V1979.1H313V1917.9H313.5V1994.3H314V1900.6H314.5V1995.2H315.5V1801.2H316V1995.7H316.5V1863.6H317V1950.1H317.5V1849.5H318V1939.1H318.5V1848.9H319V1956.9H319.5V1844.8H320V1942.7H320.5V1842.1H321V1956.7H321.5V1724.4H322V2007.1H322.5V2004.4H323V2005.9H323.5V2013.8H324V2012.3H324.5V2000.2H325V2014H325.5V2013H326V2013.7H326.5V2014.7H327.5V2012H328.5V2011H329V2001H329.5V2011.8H330V1999.4H330.5V1999.8H331V2012.2H331.5V2003.2H332.5V2006.5H333V1991.2H333.5V1974.5H334V1994.8H334.5V1938.1H335V1915.7H335.5V1915.1H336V1946.9H336.5V1916.4H337V1760.6H337.5V1915.6H338V1930.4H338.5V1848.6H339.5V1960H340V1994.6H340.5V2002.6H341V1957.5H341.5V2001.2H342V1968.8H342.5V2001.4H343V1959.3H343.5V1996.6H344V1944.9H344.5V2000.5H345V1967.4H345.5V2007.8H346V1961H346.5V2008.1H347V1972.8H347.5V2008.7H348V1977.5H348.5V2008.8H349V1972.3H349.5V2002.8H350V1966.5H350.5V1952.5H351V1966.3H351.5V2006.7H352V1981.8H352.5V2011.4H353V1969.7H353.5V2012H354V1974.5H354.5V1974.4H355V2003.1H355.5V1975H356V1887.4H356.5V1988.9H357V2008.7H357.5V1992.8H358V2005.3H358.5V1766.7H359V2010.9H360V1995.7H360.5V2017.6H361V1998.2H361.5V2018.2H362V2010.6H362.5V2018.8H363.5V2013.4H364V2015.2H364.5V2020H365V2018.8H365.5V2020.1H366V2010.6H366.5V2007.6H367.5V1601H368V2017.8H368.5V1601H369.5V1389.9H370V2012.6H371V2019.3H371.5V2009.5H372.5V2019.4H373V1986.4H373.5V2016.6H374V1983.6H374.5V2010.6H375V1971.5H375.5V2013.6H376V1985.4H376.5V2014H377V1979.9H377.5V2010.9H378V1989.8H378.5V2011.7H379V1986.4H379.5V1994.2H380V2013.6H380.5V1991H381V2016H381.5V1997.7H382V2017H382.5V2012.9H383.5V1997.5H384V1998.4H384.5V1968.4H385V1977.5H385.5V1944.8H386V1947H386.5V1941.3H387.5V1969.8H388.5V1981H389V1992.6H389.5V2002.7H390V1991.1H390.5V2004.4H391V2000.2H391.5V2011.6H392V2008H392.5V2021.2H393V2016.5H393.5V2013.1H394V2013.3H394.5V2020.1H395V2012.5H395.5V2019.7H396V2006.8H396.5V2018.1H397.5V2007.8H398.5V2018.8H399V2014.1H399.5V2020.1H400V2015.7H400.5V2015.4H401V2019.8H401.5V2009.6H402V2019.1H402.5V2018.4H403.5V2015.1H404V1968.4H404.5V2010.9H405V1970.7H405.5V2010.5H406V1965.2H406.5V2004.9H407V1964.8H407.5V1812.6H408V1983.4H408.5V2006.9H409V1946.2H410V1973.4H410.5V2011.6H411V1973.2H411.5V2015.3H412V1973.5H412.5V2014.6H413V1972.3H413.5V2013.7H414V2001.8H414.5V2002.9H415V2011.9H415.5V2017.1H416V2009.1H416.5V1996.5H417V2016.2H417.5V1956.1H418V1978.9H418.5V1955.5H419V1977.2H419.5V1912.2H420V1975.8H420.5V1946H421V1968.3H421.5V1946.6H422V1969.8H422.5V1946.2H423V1968.5H423.5V1946.1H424V1961.1H424.5V1944.9H425V1957.9H425.5V1916.2H426V1928.8H426.5V1910H427V1841H427.5V1905.7H428V1929.1H428.5V1902.4H429V1924.4H429.5V1900H430V1919.8H430.5V1895.5H431V1912.8H431.5V1889.7H432V1909.2H432.5V1887.4H433V1911.1H433.5V1884.9H434V1898.4H434.5V1859.7H435V1881.7H435.5V1857H436V1878.2H436.5V1839.3H437V1858H437.5V1839.3H438V1859.6H438.5V1743.2H439V1863.4H439.5V1817.5H440V1840.8H440.5V1806.5H441V1827.1H441.5V1821H442V1835H442.5V1831.7H443V1852.2H443.5V1832.3H444V1848.5H444.5V1811.6H445V1832.3H445.5V1802.6H446V1823.1H446.5V1804.5H447V1827H447.5V1816.6H448V1833.8H448.5V1819.3H449V1825.4H449.5V1951.9H450.5V1967.1H451.5V1718.4H452V1987.8H453V1994H453.5V1992.4H454.5V1998.9H455V1999.5H455.5V2000H456V1985.2H456.5V1999.3H457V1979.6H457.5V2000.6H458V1984.6H458.5V1999.9H459V1980.8H459.5V1984.6H460V1999.7H460.5V1985H461V1997.3H461.5V1977.8H462V1996.3H462.5V1979.1H463V1995.4H463.5V1983.7H464V1997.4H464.5V1967.3H465.5V1960.5H466.5V1942.7H467.5V1932.2H468V1938.3H468.5V1977.7H469V1971.6H469.5V1983.3H470.5V1980.6H471V1988.2H471.5V1971.2H472V1963.6H472.5V1961.2H473V1969H473.5V1968.7H474V1960.9H474.5V1975.6H475V1976.5H475.5V1986.2H476V1987.2H476.5V1995.7H477V2000.7H477.5V2007H478V1995H478.5V2007.6H479V1996.9H479.5V1998.2H480V1994.8H480.5V1940.6H481V1990.4H481.5V2002.6H482V1996.1H482.5V2006.3H483V1995H483.5V2003.8H484V1994.6H484.5V1974.8H485V1995H485.5V2006H486V1995H486.5V2008.2H487V1993.9H487.5V2008.7H488V1998.6H488.5V2009.3H489V1994.8H489.5V2006.9H490V1992.2H490.5V2005.9H491V1995.6H491.5V2004.7H492V1990.3H492.5V1985H493V2005.4H493.5V1991.4H494V2004.9H494.5V2001.8H495V2007.4H495.5V1997.1H496V2009.2H496.5V1996.1H497V2009.8H497.5V1998.6H498V2008.7H498.5V1991.3H499V1997.7H499.5V2006.7H500V2001.7H500.5V1996.4H501V1989.8H501.5V1856.7H502V1988.6H502.5V2002H503V1991.6H503.5V2010.3H504V1990.1H504.5V2007.1H505V1984H505.5V2008.9H506V1992.6H506.5V1998.6H507V1992.8H507.5V1862H508V2008.4H508.5V1862H509.5V2004.2H510.5V2004.7H511V2006.2H511.5V2008.6H512.5V2009.1H513.5V2000.7H514V2010.5H514.5V2007.8H515.5V2009.2H516.5V2009.9H517.5V2012.1H518V2009.2H518.5V2012H519V2010.2H519.5V2012H520V1999.6H521V1913.7H521.5V2003.6H522.5V1950.7H523.5V2007.6H524.5V2004.5H525V2006.7H525.5V2011.8H526.5V2011H527V2005.4H527.5V1999.4H528V2011.3H528.5V2011.2H529V2008.5H529.5V2009.1H530V2011.7H530.5V2008H531V2011.5H531.5V2013H532.5V2012.8H533.5V2014H534.5V2012.6H535V2014H535.5V2012H536.5V2012.3H537.5V1996.2H538.5V1995.7H539V1998.7H539.5V1995.9H540.5V1976H541V1976.6H541.5V1980.2H542V1979.6H542.5V1991.9H543.5V2001.5H544.5V2002.7H545V2001.8H545.5V2000.7H546V2002.4H546.5V2011.8H547.5V2012.3H548V2009.7H548.5V2010.6H549V2013.2H549.5V2013.7H550.5V2013.6H551V2012.9H552V2007H552.5V2013.3H553.5V2013.4H554.5V2011.1H555.5V2010.4H556.5V2011.2H557.5V2012.8H558.5V2013.5H559.5V2012.6H560.5V2014H561V2013.9H561.5V2014H562V2013.8H562.5V2013.9H563V2014H563.5V2013.6H564.5V2012.6H565.5V2012H566V2009.7H566.5V2012.9H567.5V2013.8H568.5V2012.7H569.5V2012.4H570.5V2011.8H571.5V2012.4H572.5V2012.8H573.5V2013.7H574V2013.5H574.5V2013.8H575V2014H575.5V2013.5H576.5V2013.1H578.5V2012.9H579.5V2013.2H580.5V2010.6H581.5V2012.8H582V2011.1H582.5V2011.3H583V2012.4H583.5V2012.7H584.5V2010.7H585V2010.8H585.5V2010.4H587V2008.6H587.5V2009.5H588V2011.3H588.5V2012.2H589V2010.8H590V1994.3H590.5V2011.5H591V2012.1H591.5V2013.2H592.5V2013.5H593.5V2013.7H594V2012.8H594.5V2013H595V2012.6H595.5V2011.9H596V2012.2H596.5V2003.5H597.5V1948.2H598V2005.4H599V1960H600V2008.8H601V2013.4H601.5V2012.6H602V2011.8H602.5V2012.5H603V2013.1H603.5V2012.4H604.5V2013.2H605V2013.5H605.5V2014.2H608.5V2014.1H609.5V2014.2H610.5V2012.2H611V2010.1H611.5V2010.7H612V2012.8H612.5V2011.4H613V2011.6H613.5V2012.4H614.5V2012.2H615.5V2013.1H616V2012.8H616.5V2014H617.5V2013.8H618V2013.7H618.5V2014.2H619.5V2014.4H620.5V2014H621.5V2013.1H622.5V2011.7H623V2013.4H623.5V2013.7H624.5V2014.1H625.5V2012.9H626.5V2014.2H628V2014.1H628.5V2014.6H629.5V2014.5H630.5V2014.1H631.5V2012.2H632.5V2013.4H633.5V2014.4H634.5V2014.6H636.5V2013.9H637.5V2012.8H638V2012.5H638.5V2012.8H639.5V2012.9H640.5V2013.7H641.5V2013.9H642V2014H642.5V2012.2H643V2012.6H643.5V2013.2H644.5V2012.4H645V2011.8H645.5V2011.3H646V2011.9H647V2005.7H647.5V2011.7H648.5V2012.6H650.5V2002H651V2013H651.5V2012.8H652V2013H652.5V2013.5H653.5V2013.2H654.5V2013.9H656.5V2012.8H657.5V2006.8H658.5V1965.7H659V2009.9H660V1986.7H661V2011.9H662V2014.3H662.5V2014.6H663V2014.1H663.5V2014.5H664.5V2013.7H665.5V2012.5H666.5V2012.4H667V2011.4H667.5V2012.9H668V2013.9H668.5V2014.5H669.5V2013.9H670V2014.1H670.5V2014.3H671.5V2012.9H672.5V2012.2H673V2012.1H673.5V2011.3H674V2011.4H674.5V2012.4H675V2011H676V1992.3H676.5V2010.6H677V1992.3H678V2012.5H679V2012.8H679.5V2013.5H680.5V2013.7H681.5V2013.2H682.5V2012.7H683V2012.8H684V2011.4H684.5V2012.7H685V2014.1H685.5V2012.1H686V2012.9H686.5V2013.8H687V2013.2H687.5V2012.3H688V2013H688.5V2010.5H689.5V2012.3H690.5V2012.6H691V2011.9H691.5V2012H692V2012.5H692.5V2013.1H693.5V2011.7H694V2011.8H694.5V2013.7H695.5V2013.5H696V2013.6H696.5V2013.2H697.5V2013.1H698.5V2013.7H699.5V2014.3H700V2012.7H700.5V2011.1H701V2012.8H701.5V2011.5H702V2012.7H702.5V2012.4H703.5V2007.7H704.5V1971.5H705V2010.5H706V2013.5H706.5V2013.6H707.5V2013H709V2012H709.5V2013.5H710.5V2014.1H711.5V2014.6H712.5V2013.9H713V2012.9H713.5V2013.1H714V2013.7H714.5V2013.1H715.5V2013.9H716.5V2013.7H717V2013.2H717.5V2012.7H718V2013.2H718.5V2012.7H719.5V2011.9H720.5V2014.2H721V2012.8H721.5V2014.6H723.5V2014.3H724.5V2013.9H726.5V2014.5H728.5V2013.9H729.5V2013.6H730.5V2006.3H731.5V1963H732V2009.6H733V2013.6H733.5V2013.7H734.5V2012.9H735V2012.5H735.5V2004H736V2013.6H736.5V2013H737.5V2012.5H738V2012.6H738.5V2013.5H739.5V2014.2H740V2014H740.5V2014.4H741V2014.6H741.5V2014.4H742.5V2013.5H743.5V2013.4H744.5V2012.5H745.5V2012.4H746.5V2012.2H747.5V2013.2H748.5V2013.8H749.5V2014.2H750V2014.1H750.5V2014.3H751V2014.5H751.5V2014.3H752.5V2013.5H753.5V2013.1H754.5V2012.8H755.5"/>
<path class="tr" d="M796.5 2029.2H797V2030.7H797.5V2030.8H798.5V2031.1H799V2030.5H799.5V2029.9H800V2030.4H800.5V2030.9H801.5V2031.3H802.5V2034.4H803.5V2036.4H804.5V2035.8H805.5V2037.1H806.5V2034.2H807.5V1998H808V2037H808.5V2032.6H809.5V1986.7H810.5V2036.1H811.5V2037.1H812.5V2038.1H813.5V2038.2H814.5V2036.9H815.5V2014H816V2037.9H816.5V2039.2H817V2039.9H817.5V2042.1H818V2039H819V2022.2H819.5V2039.2H820.5V2037.4H821.5V2035.8H822.5V2037.1H823.5V2037.9H824V2037H825V2009.5H825.5V2039.1H826V2034.5H826.5V2037.3H827V2041.2H827.5V2041.4H828.5V2041.1H829.5V2039.6H830.5V2040.4H831.5V2038H832.5V2038.7H833.5V2039.3H834.5V2039.9H835.5V2038.3H836V2034.4H836.5V2031H837V2040H837.5V2037.1H838.5V2040.1H839V2036H839.5V2036.6H840V2040.5H840.5V2031H841V2041.2H842V2042.3H842.5V2041.8H843.5V2036.8H844.5V2040.8H845V2038.7H845.5V2039.1H846.5V2036.6H847V2036.7H847.5V2039.6H848.5V2039.5H849.5V2042.3H850.5V2035.5H851.5V2000H852V2038.2H853V2038.6H853.5V2019.7H854V2040.1H855V2040.3H855.5V2040.1H856.5V2039.8H857V2038.4H857.5V2038.3H858V2039.6H858.5V2036.3H859V2036.6H859.5V2040.9H860.5V2040.8H861.5V2041H862.5V2037.4H863.5V2038.2H864V2034.5H864.5V2036.4H865V2040.1H865.5V2031.2H866V2040.2H866.5V2033.4H867V2033.3H867.5V2030.5H868V2022.2H868.5V2013.2H869.5V2003.5H870.5V2009.4H871.5V2024.4H872.5V2023.2H873V2025.5H873.5V2028.9H874V2034.5H874.5V2032.9H875V2037.5H875.5V2036.1H876V2037.9H876.5V2037.8H877V2031.1H877.5V2041.9H878V2041.4H878.5V2039.7H879V2040H879.5V2038.8H880.5V2039.5H881.5V2038.3H882V2035.7H882.5V2035.3H883V2037.9H883.5V2040.4H884.5V2031H885V2039.7H885.5V2041.1H886.5V2033.7H887V2035.5H887.5V2036.7H888.5V2007.8H889V2038.5H889.5V2038.9H890V2039.5H890.5V2040.1H891V2042.2H891.5V2041.7H892.5V2036.7H893.5V2040.6H894.5V2042.2H895V2040.4H895.5V2040.7H896V2042.2H898.5V2039.4H899.5V2036.3H900V2036.7H900.5V2040.4H901.5V2042.2H902.5V2041.1H903.5V2041.5H904.5V2038.5H905.5V2040.1H906V2037.8H906.5V2037.1H907V2017H907.5V2038.1H908.5V2017H909V2039.7H910V2040.9H910.5V2039.6H911.5V2039.8H913.5V2041H914.5V2039.4H915V2036.7H915.5V2038.1H916V2040.8H916.5V2038.1H917V2038.4H917.5V2039.3H918.5V2037.7H919.5V2033.5H920.5V2038.1H921.5V2017H922V2039.7H923V2042.1H923.5V2040.7H924.5V2039.7H925.5V2037.2H926V2037.4H926.5V2040.4H927.5V2040.5H928V2039.1H928.5V2039.5H929.5V2038.6H930.5V2038.2H931.5V2039.3H932V2024.7H932.5V2039.1H933.5V2039.5H934.5V2038.9H935.5V2040.4H936.5V2039.6H937V2035H938V1998H939V2034.6H940V1995H941V2037.6H942V2041.3H942.5V2037.9H943.5V2039.4H944.5V2041.8H945.5V2042.1H946V2038.6H946.5V2039.6H947V2042.1H947.5V2040.5H948.5V2037.7H949.5V2036.4H950V2036.1H950.5V2038H951V2038.4H951.5V2038.9H952.5V2040H953V2039H953.5V2038.6H954V2039.3H954.5V2036.5H955.5V2036.8H956.5V2037.4H957.5V2013.8H958V2039.4H959V2040H959.5V2041.3H960.5V2035H961V2041.5H961.5V2025.8H962V2040.9H962.5V2026.1H963V2038.1H963.5V2025.3H964V2030.5H964.5V1969.7H965V2032.8H966V1984H967V2024.2H967.5V2032.8H968V1984H969V2033.7H969.5V2024.3H970V1990H971V2037.1H972V2028.1H972.5V2030.8H973.5V1971.5H974V2029.3H974.5V2035.3H975V2031H975.5V2037.3H976V2027.9H976.5V2038.1H977V2027.4H977.5V2031.7H978V2038.5H978.5V2037.7H979.5V2037.4H980.5V2036.2H981.5V2037.6H982.5V2030.7H983.5V1971.5H984.5V2030.7H985.5V1971.5H986.5V2035.3H987.5V2033.4H988.5V2037.9H989V2038H989.5V2019.7H990V2035.1H990.5V2038.5H991V2040.4H991.5V2037.6H992.5V2039.7H993.5V2042H994V2040.2H994.5V2040.3H995V2042H995.5V2040.1H996.5V2034H997V2038.3H997.5V2035.1H998.5V2036.1H999V2005H999.5V2034.3H1000V2036.2H1000.5V2035.3H1001.5V2000.7H1002V2037.2H1002.5V2030.4H1003V2030.5H1003.5V2031.3H1004.5V2033H1005V2031.4H1005.5V2029.6H1006.5V1967.7H1007V2034.3H1007.5V2027.2H1008.5V1885.3H1009V2032.8H1009.5V2026.9H1010.5V1929.7H1011.5V2032.5H1012.5V2039.3H1013.5V2035H1014V2037.7H1014.5V2036.7H1015.5V2038H1016.5V2039.2H1017.5V2037.6H1018.5V2037.7H1019.5V2036.7H1020.5V2019.7H1021V2038H1022V2039.3H1022.5V2038H1023.5V2036.5H1024.5V2036.2H1025.5V2037.9H1026.5V2037.3H1027.5V2039.2H1028.5V2038.1H1029V2037.8H1029.5V2036.6H1030V2036.9H1030.5V2033.9H1031.5V2034.6H1032V2034.9H1032.5V2037.5H1033V2034.3H1033.5V2036.1H1034V2038.1H1034.5V2036.2H1035.5V2030.8H1036.5V2033.2H1037.5V2034.1H1038.5V2034.8H1039.5V2036.7H1040V2035.6H1040.5V2030.8H1041.5V1988.7H1042V2034H1042.5V2032.7H1043.5V2031.2H1044V2020.3H1044.5V2030.9H1045V2012H1045.5V2031.7H1046V2009.9H1046.5V2033.7H1047V2026.9H1047.5V2028.9H1048V2012H1048.5V1977H1049V2031.6H1049.5V2029.2H1050.5V1985.4H1051V2030.8H1051.5V2027.3H1052V2025.8H1053V1958H1053.5V2030.9H1054V2021H1054.5V2030.3H1055V1986.7H1055.5V2033.7H1056V2032.8H1056.5V2033.6H1057V2012H1057.5V2024.6H1058V2008.5H1058.5V1792.8H1059.5V2024.6H1060.5V1388.4H1061V2030.2H1061.5V2026.2H1062.5V1961.4H1063.5V2031.1H1064.5V2036.9H1066.5V2038.4H1067.5V2036.1H1068V2033.6H1068.5V2034H1069V2035.9H1069.5V2034.7H1070.5V2032.1H1071V2032.5H1071.5V2031.7H1072.5V2029.6H1073.5V2027.7H1074V2025.9H1074.5V1971.5H1075V2031.9H1075.5V2024.3H1076.5V1948.2H1077V2029.9H1078V2031.9H1078.5V1998H1079V2026.2H1079.5V2032.6H1080.5V2035.8H1081V2031.4H1081.5V2036.8H1082.5V2037.2H1083V2030.9H1084V1992.3H1084.5V2033.8H1085.5V2033.1H1086V2033.2H1086.5V2032.5H1087.5V2030.2H1088.5V2029.9H1089.5V2032.9H1090.5V2034H1091.5V2032.9H1092.5V2033.1H1093.5V2032.8H1094V2024.1H1095V1796.6H1096V2029.7H1096.5V2024H1097.5V1720H1098V2029.6H1099V2035.5H1099.5V2032.5H1100.5V2031.1H1101.5V2029.2H1102.5V2031.5H1103.5V2032.5H1104.5V2034.7H1105V2031.6H1105.5V2024H1106.5V1863.8H1107.5V2029.6H1108V2024H1109V1779.6H1109.5V2028.2H1110V2029.6H1110.5V2036.3H1111.5V2031.6H1112.5V1998H1113V2034.2H1113.5V2030.9H1114.5V2008.3H1115V2032.4H1115.5V2034.1H1116V2034.8H1116.5V2034.3H1117.5V2034.1H1118.5V2034.7H1119.5V2035.8H1120.5V2036.9H1121V2026.8H1122V1967.7H1123V2026.1H1123.5V1963.5H1124.5V2030.8H1125.5V2032.1H1126V2026.1H1126.5V2033H1127V2032.7H1127.5V2035H1128V2035.1H1129.5V2026.3H1130.5V2032.9H1131.5V2030.9H1132V2030.6H1132.5V2031.3H1133V2026.4H1133.5V2023H1134V2034.6H1134.5V2036.6H1135V2038H1136.5V2033.4H1137.5V2026.2H1138.5V2029.1H1139.5V2034.1H1140V2032.6H1140.5V2030.9H1141V2032.4H1141.5V2033.7H1142.5V2029.4H1143.5V2034.3H1144.5V2036.5H1145V2036.3H1145.5V2033.9H1146V2025.2H1147V1958H1148V2024H1149V1950H1150V2024H1150.5V1945H1151.5V2029.6H1152.5V2029.9H1153V2033.5H1153.5V2031.4H1154.5V2033.3H1155.5V2034.5H1156.5V2034.3H1157V2023.1H1157.5V2028.2H1158.5V1977H1159V2032.1H1159.5V2014.2H1160V2024.8H1160.5V2008.9H1161V2024.5H1161.5V2006.8H1162V2022.1H1162.5V2006H1163V2012.7H1163.5V2011.6H1164V2004.9H1164.5V2012.8H1165V2004.3H1165.5V2011.2H1166V1955.6H1166.5V2016.1H1167.5V2000.3H1168V2005.4H1168.5V1998.9H1169.5V1998.1H1170V1998.9H1170.5V1997.5H1171V1996.8H1171.5V1999.4H1172V1996.3H1172.5V2000.2H1173.5V1997.1H1174V2000.5H1174.5V1996.1H1175V2001.8H1175.5V2001.7H1176V1996.1H1176.5V1995.6H1177.5V2001.2H1178.5V2025.9H1179.5V2030.7H1180.5V2036.9H1181V2035.3H1181.5V2036.2H1182V2037.9H1182.5V2038H1183.5V2030.8H1184V2032.4H1184.5V2035H1185.5V2031.7H1186.5V2028.2H1187.5V2027.6H1188.5V2030.3H1189V2030.1H1189.5V2034H1190V2024.1H1191V1806.4H1191.5V2029.7H1192.5V2024.9H1193V2030.2H1193.5V2026.7H1194V2026.3H1194.5V2023.7H1195.5V2026.5H1196.5V2021.3H1197V2023.7H1197.5V2023.3H1198V2028.4H1198.5V2023.5H1199V2023.6H1199.5V2024.1H1200V2024H1200.5V2025.8H1201.5V2026.7H1202.5V2026.5H1203.5V2029.3H1204V2025.6H1204.5V2025.5H1205.5V2025.8H1206.5V1994.3H1207V2029H1207.5V2028.2H1208V2029.5H1208.5V2029.8H1209.5V2031.9H1210.5V2033.9H1211.5V2033.3H1212V2030.6H1212.5V2032.1H1213V2034.8H1213.5V2029.7H1214V2032.2H1214.5V2035.5H1215V2034.5H1215.5V2036.2H1216.5V2035.4H1217.5V2036.3H1218.5V2034.1H1219V2024.2H1220V1950H1221V2026H1222V1962H1223V2030.9H1223.5V2026.2H1224.5V2036.4H1225.5V2037.2H1226V2031.1H1226.5V2033.3H1227V2038.1H1227.5V2030.1H1228V2030.2H1228.5V2031.2H1229.5V2030.6H1230.5V2031.8H1231V1998H1232V2031.5H1233V1996H1234V2034.2H1234.5V2031.7H1235V2032.1H1235.5V2035.2H1236.5V2032.9H1237V2032.8H1237.5V2032.9H1238V2033H1238.5V2025.5H1239V2025.9H1239.5V2035.7H1240V2024.3H1241V1894.9H1241.5V2024.4H1242.5V1921.5H1243.5V2030H1244.5V2038.4H1245.5V2027H1246.5V1967H1247.5V2024.4H1248.5V1919.4H1249V2030H1250V2038.1H1250.5V2038.4H1251V2033.5H1251.5V2033H1252V2037.2H1252.5V2038.4H1253.5V2033H1254.5V2036.3H1255V2035.7H1255.5V2025H1256.5V2035.6H1257V2036.4H1257.5V2035.5H1258.5V2036.9H1259V2034.5H1260V2013.8H1260.5V2036.1H1261V2029.5H1262V1982.7H1262.5V2033.1H1263.5V2034.1H1264.5V2035.3H1265.5V2034.6H1266.5V2035.2H1267.5V2035.9H1268.5V2035.4H1269.5V2035.1H1270.5V2035.9H1271.5V2037H1272.5V2038.2H1273V2038.1H1273.5V2037.9H1274V2038H1274.5V2035.5H1275V2036H1275.5V2037.7H1276V2036.5H1276.5V2037.6H1277V2037.4H1277.5V2037.2H1278V2036.1H1279V2025H1279.5V2034.3H1280V2025H1281V2036.2H1281.5V2037H1282V2037.4H1282.5V2036.7H1283.5V2034.6H1284V2034.7H1284.5V2029H1285V2034.2H1285.5V2029H1286.5V2037.1H1287V2037.3H1287.5V2035.9H1288.5V2037.9H1289V2037.7H1289.5V2036.8H1290V2037H1290.5V2036.7H1291.5V2035.4H1292.5V2037.5H1293V2037.4H1293.5V2036.7H1295.5V2036.5H1296.5V2036.6H1297V2036.4H1297.5V2036.2H1298V2035.6H1298.5V2034.9H1299V2035.5H1299.5V2036.4H1300.5V2036.8H1301.5V2035.9H1302V2036H1302.5V2037.2H1303.5V2037.1H1304.5V2037H1305.5V2036.5H1306.5V2037H1307.5V2037.3H1308.5V2037.4H1309.5V2036.6H1310.5V2036.4H1311.5V2035.5H1312V2035.6H1312.5V2037.4H1313V2036.1H1313.5V2036.5H1314V2037.8H1314.5V2037.7H1315.5V2037.6H1316.5V2037.8H1317.5V2037.6H1318.5V2037.7H1319.5V2036.8H1320.5V2036.1H1321.5V2036.5H1322.5V2036.6H1323.5V2036.9H1324V2036.5H1324.5V2036.6H1325V2036.8H1325.5V2037.3H1327.5V2037.2H1328V2028.9H1329V1982.7H1329.5V2033.8H1330V1982.7H1331V2032.5H1332V2037.2H1332.5V2037.7H1333.5V2036.1H1334V2036.7H1334.5V2037.5H1335.5V2037.7H1336V2037.6H1337V2037.7H1337.5V2031.1H1338.5V1996H1339V2033.7H1339.5V1996H1340.5V2033.7H1341.5V2035H1342V2036.3H1342.5V2036.9H1343.5V2037.7H1345V2036.5H1345.5V2036.8H1346V2037.7H1346.5V2037.3H1347.5V2037.2H1348.5V2037H1349V2036.6H1349.5V2036.8H1350V2037.2H1350.5V2035.3H1351.5V2036.5H1352.5V2035.7H1353.5V2035.9H1355.5V2036.7H1356V2035.3H1356.5V2036.1H1357V2037H1357.5V2036.8H1358.5V2036.6H1359.5V2036.3H1360.5V2036.8H1361.5V2036.9H1362.5V2036.3H1363.5V2036.4H1364.5V2036.3H1365.5V2037.3H1366.5V2036.9H1367.5V2036.4H1368.5V2036.1H1369.5V2035.9H1370.5V2036.2H1371.5V2035.9H1372.5V2036.6H1373.5V2037H1374V2035.6H1374.5V2035.5H1375V2036.9H1375.5V2036.6H1376.5V2036.4H1377.5V2036.9H1378.5V2037.1H1379.5V2037.7H1381.5V2036.9H1382.5V2036.8H1383.5V2036.2H1384.5V2037.4H1385V2036.2H1385.5V2035.6H1386V2036.7H1386.5V2036.3H1387.5V2035.9H1388.5V2036.9H1389.5V2037H1390.5V2036.6H1391V2036.7H1391.5V2036.1H1392V2034.9H1392.5V2035.2H1393V2036.4H1393.5V2037.3H1394.5V2035.7H1395V2036.2H1395.5V2037.2H1396.5V2036.4H1397V2035.9H1397.5V2036.7H1398.5V2036.8H1399V2032.8H1400V2007.4H1400.5V2033.6H1401V2007.4H1402V2034.7H1403V2036.6H1403.5V2037.3H1404.5V2037.5H1405.5V2037.6H1406.5V2036.9H1407.5V2036.7H1408V2036.1H1409V2035.8H1409.5V2036.4H1410V2036.8H1410.5V2036.4H1411.5V2037H1412.5V2037.3H1413V2036.7H1413.5V2036.9H1414V2037.2H1414.5V2037.3H1415.5V2037H1416.5V2036.7H1417.5V2036.1H1418.5V2035.5H1419.5V2036H1420.5V2036.4H1421.5V2037.2H1422.5V2036.9H1423.5V2036.7H1424V2035.9H1424.5V2034.8H1425V2035.6H1425.5V2035.2H1426V2036.3H1426.5V2034.9H1427V2035.1H1427.5V2036.5H1428V2036.1H1428.5V2036.5H1429.5V2037H1430V2035.6H1430.5V2035.8H1431V2037.3H1431.5V2036.7H1432.5V2036.9H1433V2037.2H1433.5V2036H1434V2036.2H1434.5V2037.4H1435.5V2037.1H1437.5V2036.4H1438.5V2035.9H1439.5V2035.8H1440.5V2035.6H1441.5V2035.9H1442.5V2036.5H1443.5V2036.3H1444.5V2036.7H1445V2036.6H1445.5V2036.4H1446V2031.5H1446.5V2036.8H1448.5V2037H1449.5V2036.2H1450.5V2035.8H1451.5V2036H1452V2034.8H1452.5V2035.2H1453V2036.4H1453.5V2036.6H1454.5V2036.8H1455V2036.1H1455.5V2035.9H1456V2036.6H1456.5V2036.7H1457V2036.8H1457.5V2036.5H1458V2035.7H1458.5V2036.3H1459V2036.8H1459.5V2035.3H1460.5V2037.1H1461V2036.7H1462V2037.1H1462.5V2037.3H1463.5V2036.9H1464.5V2036.8H1465.5V2036.2H1466.5V2035.7H1467.5V2035.3H1468.5V2034.3H1469V2032.9H1469.5V2034H1470V2035.4H1470.5V2035.7H1471V2035.9H1471.5V2037.5H1472V2037H1472.5V2037.1H1473V2036.5H1473.5V2036.3H1474V2031.5H1474.5V2033.5H1475V2031.5H1476V2036H1476.5V2036.6H1477.5"/>
<g fill="#000">
<rect x="361" y="22.5" width="14" height="14"/>
<circle cx="332.6" cy="198.4" r="7"/>
<rect x="271.8" y="458.9" width="14" height="14"/>
<circle cx="147.5" cy="537.1" r="7"/>
<circle cx="178.7" cy="594.4" r="7"/>
<circle cx="193.1" cy="614.2" r="7"/>
<circle cx="227.1" cy="555.6" r="7"/>
<circle cx="238.5" cy="536.6" r="7"/>
<circle cx="256" cy="545.5" r="7"/>
<circle cx="264.8" cy="550" r="7"/>
<rect x="348.6" y="527" width="14" height="14"/>
<rect x="373.2" y="531.9" width="14" height="14"/>
<circle cx="394.6" cy="589.8" r="7"/>
<circle cx="437.3" cy="513.5" r="7"/>
<rect x="507.3" y="585.6" width="14" height="14"/>
<path d="M611.2 506.3L618.4 513.5L611.2 520.7L604 513.5Z"/>
<path d="M673.8 536.8L681 544L673.8 551.2L666.6 544Z"/>
<path d="M720.2 572.7L727.5 586.9L712.9 586.9Z"/>
<path d="M746.8 572.7L754.1 586.9L739.5 586.9Z"/>
<rect x="1088.5" y="-0.4" width="14" height="14"/>
<circle cx="883.8" cy="519.7" r="7"/>
<circle cx="907.1" cy="589.9" r="7"/>
<circle cx="955.5" cy="519.7" r="7"/>
<circle cx="967.2" cy="445.7" r="7"/>
<circle cx="984.7" cy="524.5" r="7"/>
<rect x="1002" y="480.7" width="14" height="14"/>
<rect x="1076.6" y="463.7" width="14" height="14"/>
<rect x="1100.9" y="568.7" width="14" height="14"/>
<path d="M1121 555.1L1123.1 561.9L1129.7 561.9L1124.3 566.1L1126.4 572.9L1121 568.7L1115.6 572.9L1117.7 566.1L1112.3 561.9L1118.9 561.9Z"/>
<circle cx="1165.5" cy="513.5" r="7"/>
<path d="M1198.9 573.3L1206.1 580.5L1198.9 587.7L1191.7 580.5Z"/>
<path d="M1273 580.6L1280.2 587.8L1273 595L1265.8 587.8Z"/>
<path d="M1303.3 557.2L1305.4 564L1312 564L1306.6 568.2L1308.7 575L1303.3 570.8L1297.9 575L1300 568.2L1294.6 564L1301.2 564Z"/>
<path d="M1339.5 390.8L1346.7 398L1339.5 405.2L1332.3 398Z"/>
<path d="M1401.2 476.7L1408.4 483.9L1401.2 491.1L1394 483.9Z"/>
<path d="M1445.4 590.7L1452.7 604.9L1438.1 604.9Z"/>
<path d="M1472.2 579.8L1479.5 594L1464.9 594Z"/>
<circle cx="325.6" cy="721.2" r="7"/>
<rect x="355.7" y="682.5" width="14" height="14"/>
<rect x="367.6" y="1071" width="14" height="14"/>
<circle cx="148" cy="1279.9" r="7"/>
<circle cx="236.4" cy="1254" r="7"/>
<rect x="252.3" y="1236.9" width="14" height="14"/>
<rect x="270" y="1204.2" width="14" height="14"/>
<rect x="293.6" y="1241.5" width="14" height="14"/>
<rect x="410.5" y="1132.7" width="14" height="14"/>
<circle cx="439.3" cy="1234" r="7"/>
<rect x="467.5" y="1265.5" width="14" height="14"/>
<rect x="500.2" y="1085.8" width="14" height="14"/>
<rect x="513.7" y="1253.9" width="14" height="14"/>
<rect x="521.8" y="1231.8" width="14" height="14"/>
<path d="M608.6 1253.7L615.8 1260.9L608.6 1268.1L601.4 1260.9Z"/>
<path d="M667.9 1274.7L675.1 1281.9L667.9 1289.1L660.7 1281.9Z"/>
<path d="M716.9 1293.2L724.2 1307.4L709.6 1307.4Z"/>
<path d="M743.5 1285.1L750.8 1299.3L736.2 1299.3Z"/>
<rect x="1088.3" y="703.3" width="14" height="14"/>
<circle cx="1060.2" cy="827.5" r="7"/>
<circle cx="875.4" cy="1277.4" r="7"/>
<circle cx="908.7" cy="1261.9" r="7"/>
<circle cx="926.7" cy="1225.1" r="7"/>
<circle cx="952" cy="1263.2" r="7"/>
<circle cx="964.9" cy="1234.8" r="7"/>
<rect x="965" y="1199.4" width="14" height="14"/>
<rect x="1000" y="1158.6" width="14" height="14"/>
<path d="M1122.3 1183.8L1124.4 1190.6L1131 1190.6L1125.6 1194.8L1127.7 1201.6L1122.3 1197.4L1116.9 1201.6L1119 1194.8L1113.6 1190.6L1120.2 1190.6Z"/>
<circle cx="1158.7" cy="1102.9" r="7"/>
<path d="M1231.3 1236.3L1233.4 1243.1L1240 1243.1L1234.6 1247.3L1236.7 1254.1L1231.3 1249.9L1225.9 1254.1L1228 1247.3L1222.6 1243.1L1229.2 1243.1Z"/>
<path d="M1264.6 1145.3L1266.7 1152.1L1273.3 1152.1L1267.9 1156.3L1270 1163.1L1264.6 1158.9L1259.2 1163.1L1261.3 1156.3L1255.9 1152.1L1262.5 1152.1Z"/>
<path d="M1339 1078.7L1346.2 1085.9L1339 1093.1L1331.8 1085.9Z"/>
<path d="M1400.2 1169L1407.4 1176.2L1400.2 1183.4L1393 1176.2Z"/>
<path d="M1444.4 1229.4L1451.7 1243.6L1437.1 1243.6Z"/>
<path d="M1474.7 1219.3L1482 1233.5L1467.4 1233.5Z"/>
<rect x="363" y="1370.7" width="14" height="14"/>
<rect x="265.3" y="1620.1" width="14" height="14"/>
<circle cx="246.5" cy="1663.9" r="7"/>
<circle cx="320.7" cy="1709.8" r="7"/>
<circle cx="443.3" cy="1706.9" r="7"/>
<circle cx="230.6" cy="1732" r="7"/>
<rect x="332.1" y="1739.7" width="14" height="14"/>
<rect x="350.6" y="1744.2" width="14" height="14"/>
<rect x="401.2" y="1788.8" width="14" height="14"/>
<circle cx="218.5" cy="1834.9" r="7"/>
<circle cx="183.2" cy="1859.5" r="7"/>
<circle cx="171.3" cy="1885.8" r="7"/>
<circle cx="280.3" cy="1892.2" r="7"/>
<circle cx="140.9" cy="1947.2" r="7"/>
<rect x="380.3" y="1918.9" width="14" height="14"/>
<rect x="490.3" y="1835.5" width="14" height="14"/>
<rect x="506.8" y="1842.6" width="14" height="14"/>
<path d="M597.5 1928.8L604.7 1936L597.5 1943.2L590.3 1936Z"/>
<path d="M658.6 1940.2L665.8 1947.4L658.6 1954.6L651.4 1947.4Z"/>
<path d="M705 1949.3L712.3 1963.5L697.7 1963.5Z"/>
<path d="M731.6 1941.2L738.9 1955.4L724.3 1955.4Z"/>
<circle cx="1060.1" cy="1377.9" r="7"/>
<rect x="1088.6" y="1697.4" width="14" height="14"/>
<rect x="1101.1" y="1758.7" width="14" height="14"/>
<rect x="1000.8" y="1861.8" width="14" height="14"/>
<rect x="963.3" y="1926" width="14" height="14"/>
<circle cx="962.6" cy="1955.5" r="7"/>
<circle cx="986.5" cy="1955.5" r="7"/>
<circle cx="936.8" cy="1974.6" r="7"/>
<circle cx="868.4" cy="1981.4" r="7"/>
<rect x="1068" y="1921.4" width="14" height="14"/>
<rect x="1115.6" y="1940.7" width="14" height="14"/>
<rect x="1143.8" y="1921.5" width="14" height="14"/>
<circle cx="1165.3" cy="1940.9" r="7"/>
<rect x="1196.7" y="1974.4" width="14" height="14"/>
<rect x="1212.9" y="1928.9" width="14" height="14"/>
<rect x="1232.6" y="1873.3" width="14" height="14"/>
<rect x="1244" y="1899.8" width="14" height="14"/>
<rect x="1254.8" y="1961.7" width="14" height="14"/>
<rect x="1318.3" y="1961.7" width="14" height="14"/>
<path d="M1339.7 1971.4L1346.9 1978.6L1339.7 1985.8L1332.5 1978.6Z"/>
<path d="M1401.2 1987.3L1408.4 1994.5L1401.2 2001.7L1394 1994.5Z"/>
</g>
<text class="l" transform="translate(749.3 49.4) scale(1.056 1)">Modern culm</text>
<text class="l i" transform="translate(749.3 87.8) scale(1.05 1)">Phragmites australis</text>
<text class="l" transform="translate(749.3 125.9) scale(1.056 1)">Yumenguan (S5)</text>
<text class="l" transform="translate(1476.8 49.3) scale(1.056 1)">Modern leaf</text>
<text class="l i" transform="translate(1476.8 87.6) scale(1.05 1)">Phragmites australis</text>
<text class="l" transform="translate(1476.8 125.6) scale(1.056 1)">Yumenguan (S5)</text>
<text class="l" transform="translate(749.3 731.8) scale(1.056 1)">Modern culm</text>
<text class="l i" transform="translate(749.3 769.8) scale(1.05 1)">Phragmites australis</text>
<text class="l" transform="translate(749.3 807.9) scale(1.056 1)">Milan Castle (S8)</text>
<text class="l" transform="translate(1476.8 731.8) scale(1.056 1)">Modern leaf</text>
<text class="l i" transform="translate(1476.8 769.8) scale(1.05 1)">Phragmites australis</text>
<text class="l" transform="translate(1476.8 807.9) scale(1.056 1)">Milan Castle (S8)</text>
<text class="l" transform="translate(749.1 1426.4) scale(1.056 1)">Ancient culm</text>
<text class="l i" transform="translate(749.1 1464.4) scale(1.05 1)">Phragmites</text>
<text class="l" transform="translate(749.1 1502.4) scale(1.069 1)">Majuanwan Tower (S7)</text>
<text class="l" transform="translate(1476.8 1426.4) scale(1.056 1)">Ancient culm</text>
<text class="l i" transform="translate(1476.8 1464.4) scale(1.05 1)">Phragmites</text>
<text class="l" transform="translate(1476.8 1502.4) scale(1.069 1)">Sunji Tower (S12)</text>
<text class="k" transform="translate(149.5 2099.5) scale(1.053 1)">5</text>
<text class="k" transform="translate(249.9 2099.5) scale(1.053 1)">10</text>
<text class="k" transform="translate(350.4 2099.5) scale(1.053 1)">15</text>
<text class="k" transform="translate(450.9 2099.5) scale(1.053 1)">20</text>
<text class="k" transform="translate(551.3 2099.5) scale(1.053 1)">25</text>
<text class="k" transform="translate(651.8 2099.5) scale(1.053 1)">30</text>
<text class="k" transform="translate(752.2 2099.5) scale(1.053 1)">35</text>
<text class="k" transform="translate(877.9 2099.5) scale(1.053 1)">5</text>
<text class="k" transform="translate(978.4 2099.5) scale(1.053 1)">10</text>
<text class="k" transform="translate(1078.9 2099.5) scale(1.053 1)">15</text>
<text class="k" transform="translate(1179.4 2099.5) scale(1.053 1)">20</text>
<text class="k" transform="translate(1279.9 2099.5) scale(1.053 1)">25</text>
<text class="k" transform="translate(1380.4 2099.5) scale(1.053 1)">30</text>
<text class="k" transform="translate(1480.9 2099.5) scale(1.053 1)">35</text>
<text class="a" transform="translate(751 2141.7) scale(1.065 1)">Retention Time (min)</text>
<text class="a" style="font-size:40px" transform="translate(28.6 1034.5) rotate(-90)">Intensity</text>
</svg></body></html>
